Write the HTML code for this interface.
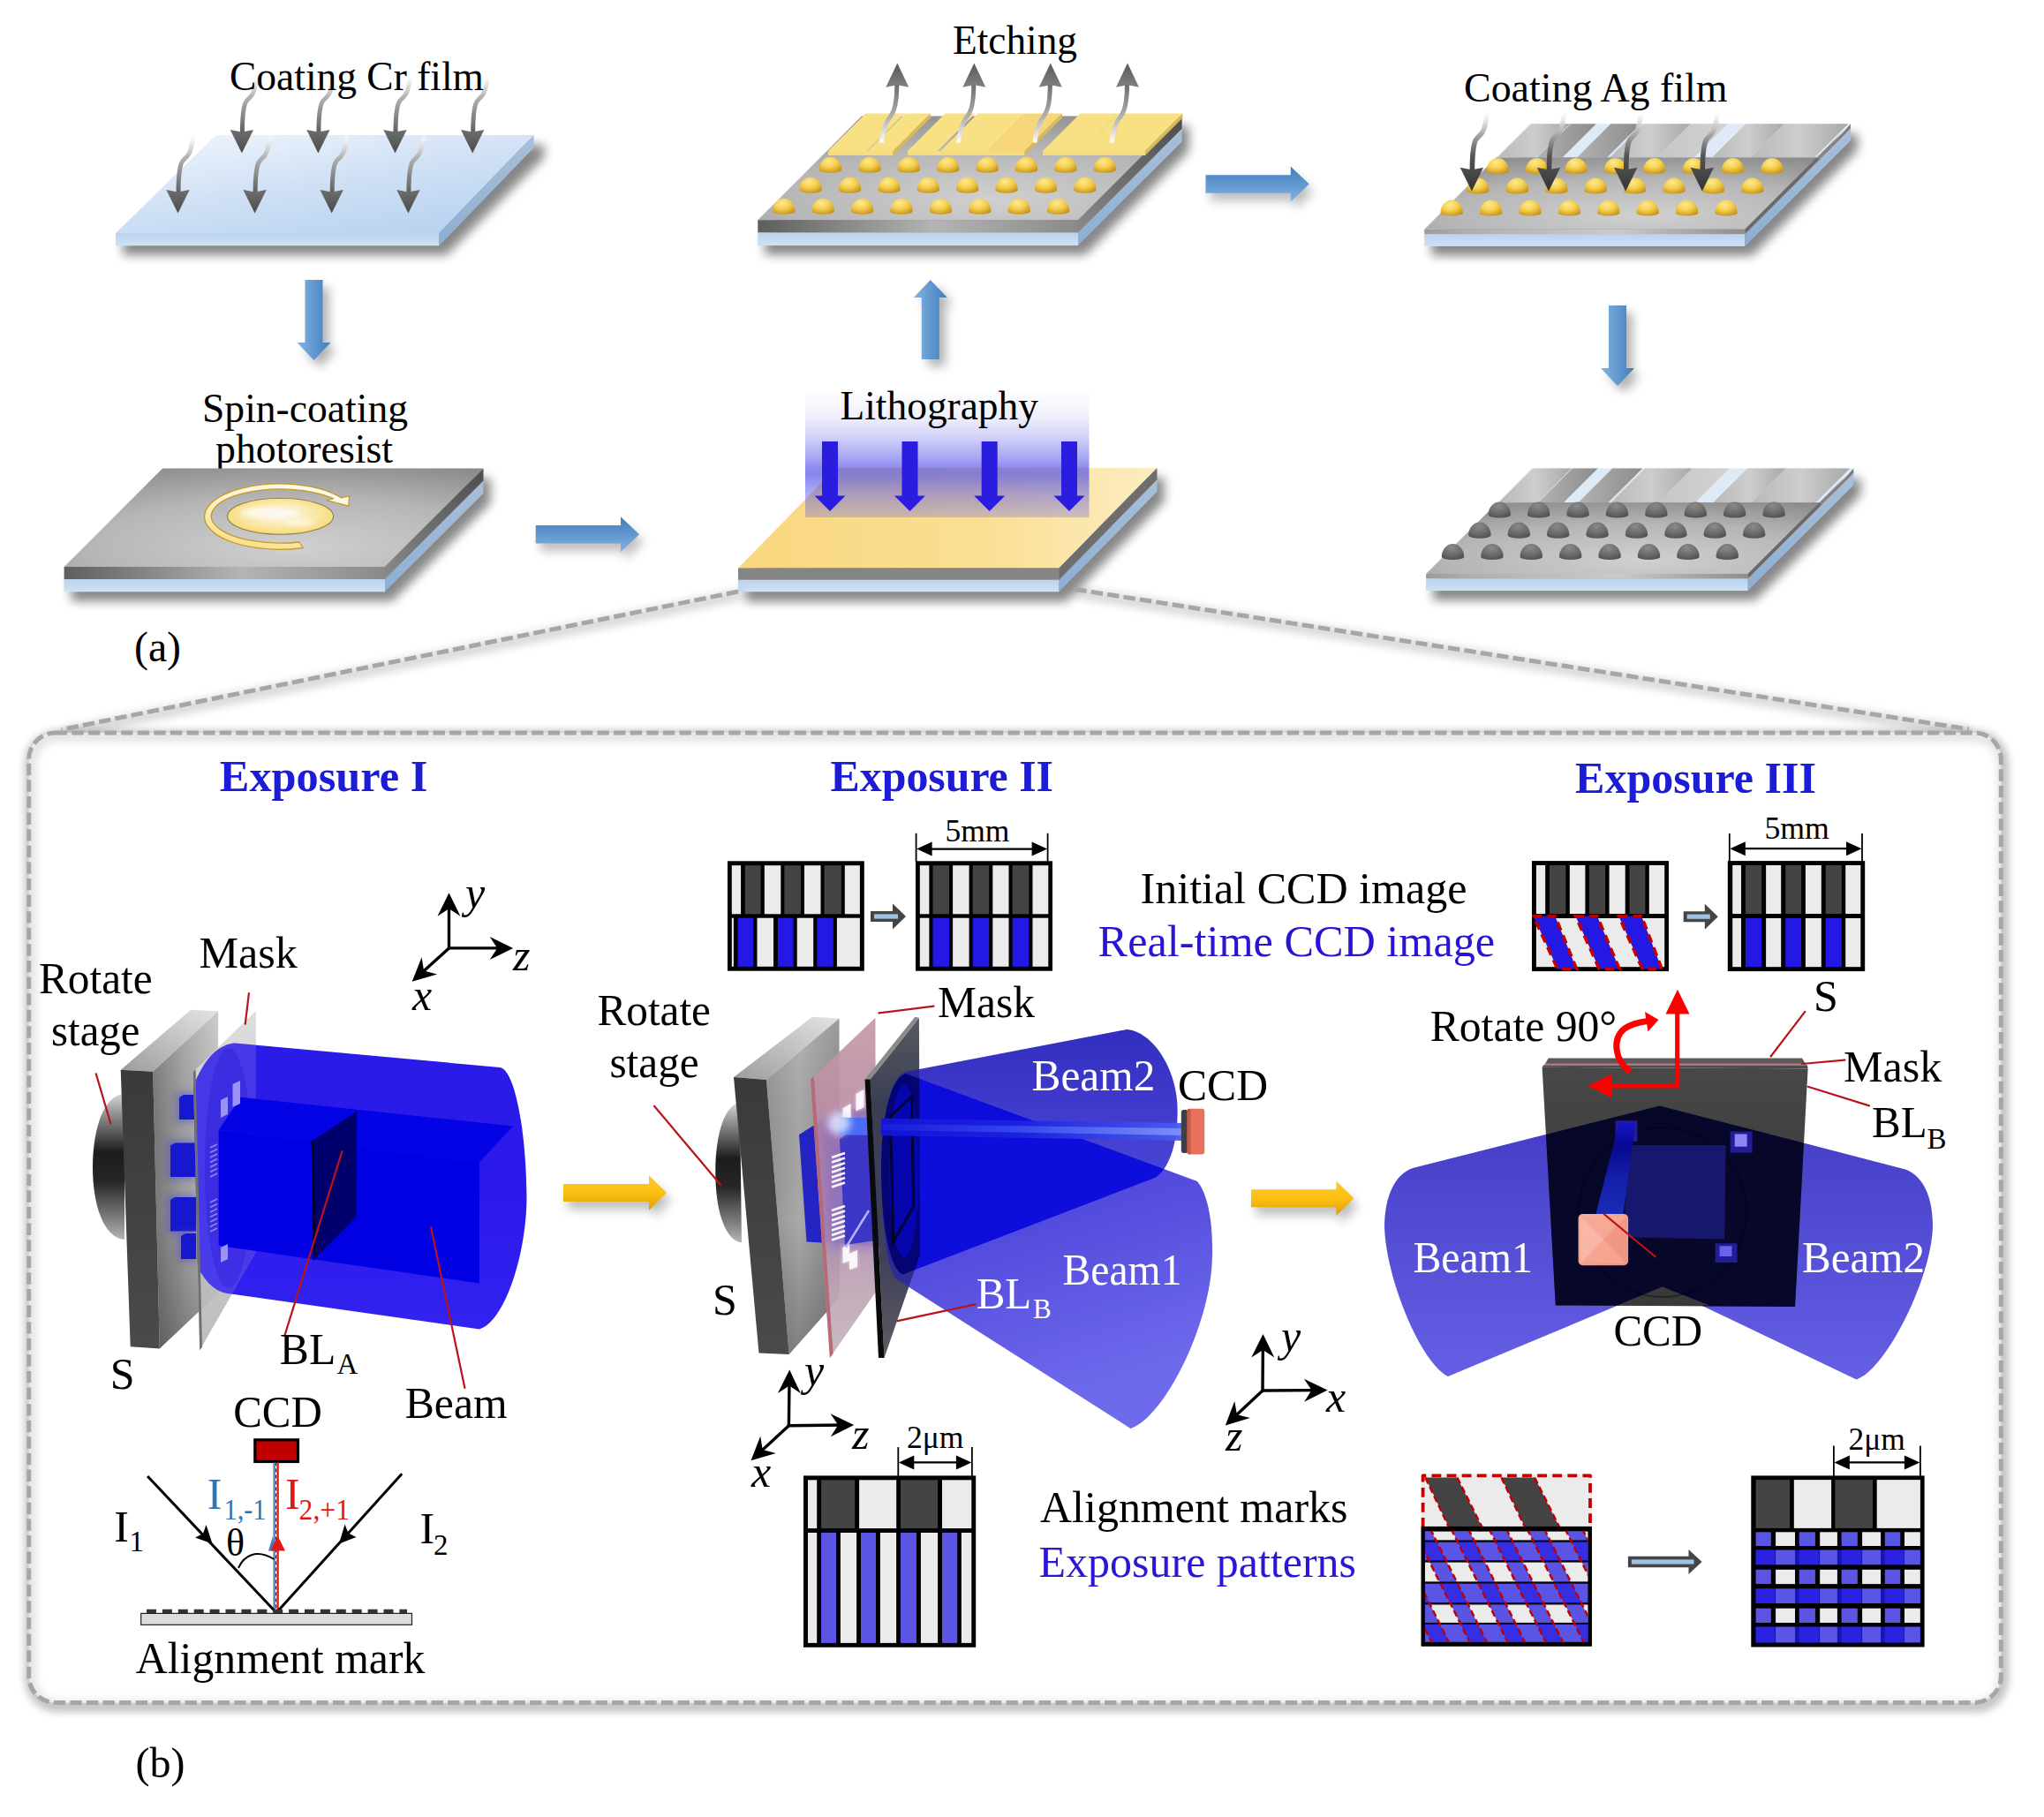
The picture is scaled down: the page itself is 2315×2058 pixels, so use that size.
<!DOCTYPE html>
<html><head><meta charset="utf-8"><title>Figure</title>
<style>
html,body{margin:0;padding:0;background:#fff;}
body{width:2315px;height:2058px;overflow:hidden;}
svg{display:block;}
svg text{font-family:"Liberation Serif",serif;}
</style></head><body>
<svg width="2315" height="2058" viewBox="0 0 2315 2058">
<defs>
<filter id="blur6" x="-30%" y="-30%" width="160%" height="160%"><feGaussianBlur stdDeviation="6"/></filter>
<filter id="blur4" x="-30%" y="-30%" width="160%" height="160%"><feGaussianBlur stdDeviation="4"/></filter>
<filter id="blur3" x="-30%" y="-30%" width="160%" height="160%"><feGaussianBlur stdDeviation="3"/></filter>
<filter id="blur2" x="-30%" y="-30%" width="160%" height="160%"><feGaussianBlur stdDeviation="2"/></filter>
<filter id="blur1" x="-30%" y="-30%" width="160%" height="160%"><feGaussianBlur stdDeviation="1"/></filter>
<filter id="blur10" x="-30%" y="-30%" width="160%" height="160%"><feGaussianBlur stdDeviation="10"/></filter>
<linearGradient id="gBlueV" x1="0" y1="0" x2="1" y2="0"><stop offset="0" stop-color="#84b3e1"/><stop offset="1" stop-color="#3f7dbd"/></linearGradient>
<linearGradient id="gBlueH" x1="0" y1="0" x2="0" y2="1"><stop offset="0" stop-color="#3f7dbd"/><stop offset="1" stop-color="#84b3e1"/></linearGradient>
<linearGradient id="gYelH" x1="0" y1="0" x2="0" y2="1"><stop offset="0" stop-color="#fbc92e"/><stop offset="0.5" stop-color="#fdc010"/><stop offset="1" stop-color="#d99f06"/></linearGradient>
<linearGradient id="gGlassTop" x1="0.15" y1="0" x2="0.85" y2="1"><stop offset="0" stop-color="#eef3fc"/><stop offset="0.5" stop-color="#cfe0f5"/><stop offset="1" stop-color="#b5d2ef"/></linearGradient>
<linearGradient id="gGlassFront" x1="0" y1="0" x2="0" y2="1"><stop offset="0" stop-color="#b9d3ee"/><stop offset="1" stop-color="#cfe1f3"/></linearGradient>
<linearGradient id="gGlassSide" x1="0" y1="0" x2="0" y2="1"><stop offset="0" stop-color="#a9bfd8"/><stop offset="1" stop-color="#8dafd3"/></linearGradient>
<radialGradient id="gGrayTop" cx="0.55" cy="0.8" r="0.9"><stop offset="0" stop-color="#d0d0d0"/><stop offset="0.55" stop-color="#b6b6b6"/><stop offset="1" stop-color="#8a8a8a"/></radialGradient>
<linearGradient id="gGrayFront" x1="0" y1="0" x2="1" y2="0"><stop offset="0" stop-color="#5e5e5e"/><stop offset="0.55" stop-color="#b4b4b4"/><stop offset="1" stop-color="#8a8a8a"/></linearGradient>
<linearGradient id="gGraySide" x1="0" y1="1" x2="1" y2="0"><stop offset="0" stop-color="#8a8a8a"/><stop offset="1" stop-color="#4d4d4d"/></linearGradient>
<linearGradient id="gYelTop" x1="0" y1="0" x2="1" y2="0"><stop offset="0" stop-color="#f9d77e"/><stop offset="0.6" stop-color="#fadf95"/><stop offset="1" stop-color="#fcecc0"/></linearGradient>
<linearGradient id="gLitho" x1="0" y1="0" x2="0" y2="1"><stop offset="0" stop-color="#5a58e8" stop-opacity="0"/><stop offset="0.22" stop-color="#5a58e8" stop-opacity="0.09"/><stop offset="0.39" stop-color="#5a58e8" stop-opacity="0.29"/><stop offset="0.53" stop-color="#5a58e8" stop-opacity="0.52"/><stop offset="0.62" stop-color="#5a58e8" stop-opacity="0.70"/><stop offset="0.67" stop-color="#5a58e8" stop-opacity="0.72"/><stop offset="0.84" stop-color="#5a58e8" stop-opacity="0.46"/><stop offset="1" stop-color="#5a58e8" stop-opacity="0.28"/></linearGradient>
<linearGradient id="gTailDown" x1="0" y1="0" x2="0" y2="1"><stop offset="0" stop-color="#ffffff" stop-opacity="0"/><stop offset="0.12" stop-color="#f4f4f4" stop-opacity="0.8"/><stop offset="0.4" stop-color="#b4b4b4"/><stop offset="1" stop-color="#5e5e5e"/></linearGradient>
<linearGradient id="gTailDownDk" x1="0" y1="0" x2="0" y2="1"><stop offset="0" stop-color="#ffffff" stop-opacity="0"/><stop offset="0.12" stop-color="#f0f0f0" stop-opacity="0.8"/><stop offset="0.4" stop-color="#a8a8a8"/><stop offset="0.75" stop-color="#555555"/><stop offset="1" stop-color="#444444"/></linearGradient>
<linearGradient id="gTailUp" x1="0" y1="0" x2="0" y2="1"><stop offset="0" stop-color="#6a6a6a"/><stop offset="0.6" stop-color="#b5b5b5"/><stop offset="1" stop-color="#ffffff"/></linearGradient>
<linearGradient id="gHeadDown" x1="0" y1="0" x2="0" y2="1"><stop offset="0" stop-color="#6e6e6e"/><stop offset="1" stop-color="#4a4a4a"/></linearGradient>
<linearGradient id="gHeadUp" x1="0" y1="0" x2="0" y2="1"><stop offset="0" stop-color="#5a5a5a"/><stop offset="1" stop-color="#808080"/></linearGradient>
<radialGradient id="gDomeY" cx="0.42" cy="0.3" r="0.75"><stop offset="0" stop-color="#fdeb92"/><stop offset="0.5" stop-color="#f5cd4a"/><stop offset="1" stop-color="#c4921a"/></radialGradient>
<radialGradient id="gDomeG" cx="0.45" cy="0.25" r="0.8"><stop offset="0" stop-color="#8a8a8a"/><stop offset="0.6" stop-color="#6a6a6a"/><stop offset="1" stop-color="#4e4e4e"/></radialGradient>
<linearGradient id="gAgA" x1="0" y1="0" x2="1" y2="0"><stop offset="0" stop-color="#b9b9b9"/><stop offset="0.5" stop-color="#cdcdcd"/><stop offset="1" stop-color="#a8a8a8"/></linearGradient>
<linearGradient id="gAgB" x1="0" y1="0" x2="1" y2="0"><stop offset="0" stop-color="#b2b2b2"/><stop offset="1" stop-color="#8c8c8c"/></linearGradient>
<linearGradient id="gAgC" x1="0" y1="0" x2="1" y2="0"><stop offset="0" stop-color="#c6c6c6"/><stop offset="1" stop-color="#d2d2d2"/></linearGradient>
<linearGradient id="gAgFront" x1="0" y1="0" x2="1" y2="0"><stop offset="0" stop-color="#9a9a9a"/><stop offset="0.15" stop-color="#b0b0b0"/><stop offset="0.6" stop-color="#cacaca"/><stop offset="1" stop-color="#8e8e8e"/></linearGradient>
<radialGradient id="gSpin" cx="0.5" cy="0.45" r="0.6"><stop offset="0" stop-color="#f6f1e6"/><stop offset="0.45" stop-color="#faecb6"/><stop offset="1" stop-color="#f8d76e"/></radialGradient>
<linearGradient id="gHeadDk" x1="0" y1="0" x2="0" y2="1"><stop offset="0" stop-color="#4e4e4e"/><stop offset="1" stop-color="#333333"/></linearGradient>
<linearGradient id="gRing" x1="0.7" y1="0" x2="0.2" y2="1"><stop offset="0" stop-color="#fffaea"/><stop offset="0.5" stop-color="#fdf0c4"/><stop offset="1" stop-color="#fbdc80"/></linearGradient>
<linearGradient id="gCyl" x1="0" y1="0" x2="0" y2="1"><stop offset="0" stop-color="#d8d8d8"/><stop offset="0.12" stop-color="#9a9a9a"/><stop offset="0.4" stop-color="#1c1c1c"/><stop offset="0.6" stop-color="#262626"/><stop offset="0.85" stop-color="#7c7c7c"/><stop offset="1" stop-color="#b5b5b5"/></linearGradient>
<linearGradient id="gSdark" x1="0" y1="0" x2="0" y2="1"><stop offset="0" stop-color="#3a3a3a"/><stop offset="1" stop-color="#4a4a4a"/></linearGradient>
<linearGradient id="gSfront" x1="0" y1="0" x2="1" y2="0"><stop offset="0" stop-color="#767676"/><stop offset="0.5" stop-color="#a2a2a2"/><stop offset="1" stop-color="#c4c4c4"/></linearGradient>
<linearGradient id="gSfrontV" x1="0" y1="0" x2="0" y2="1"><stop offset="0" stop-color="#ffffff" stop-opacity="0.15"/><stop offset="0.6" stop-color="#000000" stop-opacity="0"/><stop offset="1" stop-color="#000000" stop-opacity="0.25"/></linearGradient>
<linearGradient id="gStop" x1="0" y1="1" x2="1" y2="0"><stop offset="0" stop-color="#9c9c9c"/><stop offset="1" stop-color="#e4e4e4"/></linearGradient>
<linearGradient id="gBeam1" x1="0" y1="0" x2="0" y2="1"><stop offset="0" stop-color="#2414e6"/><stop offset="0.5" stop-color="#2412ea"/><stop offset="1" stop-color="#2c1cf0"/></linearGradient>
<linearGradient id="gMask1" x1="0" y1="0" x2="0" y2="1"><stop offset="0" stop-color="#dadada"/><stop offset="1" stop-color="#b8b8b8"/></linearGradient>
<clipPath id="clipBeam1"><polygon points="216,1100 700,1100 700,1700 230.2,1700"/></clipPath>
<clipPath id="clipMask1"><polygon points="218.8,1213.9 289.9,1144.7 289.9,1418.7 226.2,1529.3"/></clipPath>
<linearGradient id="gMask2" x1="0" y1="0" x2="0" y2="1"><stop offset="0" stop-color="#c49aa6"/><stop offset="0.35" stop-color="#b98aa6"/><stop offset="0.6" stop-color="#b08ab0"/><stop offset="0.8" stop-color="#bfa6b6"/><stop offset="1" stop-color="#c4b6bc"/></linearGradient>
<linearGradient id="gBLB2" x1="0" y1="0" x2="0" y2="1"><stop offset="0" stop-color="#565a62"/><stop offset="0.25" stop-color="#3a3e52"/><stop offset="0.7" stop-color="#40405a"/><stop offset="1" stop-color="#5c5c62"/></linearGradient>
<linearGradient id="gCone1" x1="0" y1="0" x2="0.3" y2="1"><stop offset="0" stop-color="#443ad4"/><stop offset="0.5" stop-color="#524adc"/><stop offset="1" stop-color="#6e6aec"/></linearGradient>
<linearGradient id="gCone2" x1="0" y1="0" x2="0" y2="1"><stop offset="0" stop-color="#322ec0"/><stop offset="0.5" stop-color="#4842d4"/><stop offset="1" stop-color="#4a44d6"/></linearGradient>
<linearGradient id="gThin" x1="0" y1="0" x2="1" y2="0"><stop offset="0" stop-color="#7aa0ff"/><stop offset="0.25" stop-color="#3050e8"/><stop offset="0.7" stop-color="#2a4ae0"/><stop offset="1" stop-color="#5a8af8"/></linearGradient>
<linearGradient id="gSfront2" x1="0" y1="0" x2="1" y2="0"><stop offset="0" stop-color="#929292"/><stop offset="0.45" stop-color="#a9a9a9"/><stop offset="1" stop-color="#8a8a8a"/></linearGradient>
<clipPath id="clipC1"><path d="M1025.6,1216 L1356,1338 C1368,1352 1374,1385 1373,1423 C1372,1500 1318,1606 1280.5,1618 L1014,1448 C1004,1436 998,1380 998,1323 C998,1268 1008,1222 1025.6,1216 Z"/></clipPath>
<clipPath id="clipC2"><path d="M1025.6,1214 L1275.9,1166.1 C1305,1168 1333,1210 1333.6,1256.5 C1334,1300 1322,1326 1307.8,1334 L1022.5,1443.5 C1006,1436 998,1380 998,1323 C998,1268 1008,1220 1025.6,1214 Z"/></clipPath>
<clipPath id="clipBLB2"><polygon points="985.6,1222.5 1040.9,1152.8 1042.0,1421.0 1001.5,1538.0"/></clipPath>
<linearGradient id="gThinB" x1="0" y1="0" x2="1" y2="0"><stop offset="0" stop-color="#1414d8"/><stop offset="0.45" stop-color="#1c22e0"/><stop offset="1" stop-color="#4a5cec"/></linearGradient>
<linearGradient id="gThinH" x1="0" y1="0" x2="1" y2="0"><stop offset="0" stop-color="#2a34e8" stop-opacity="0.3"/><stop offset="0.5" stop-color="#4458f0" stop-opacity="0.8"/><stop offset="1" stop-color="#7c90f8"/></linearGradient>
<clipPath id="clipBoxC"><rect x="1735" y="1036" width="155" height="64.1"/></clipPath>
<linearGradient id="gPlate3" x1="0" y1="0" x2="0" y2="1"><stop offset="0" stop-color="#484848"/><stop offset="0.35" stop-color="#404040"/><stop offset="1" stop-color="#383838"/></linearGradient>
<linearGradient id="gWing" x1="0" y1="0" x2="0" y2="1"><stop offset="0" stop-color="#423cc6"/><stop offset="0.5" stop-color="#544ed5"/><stop offset="1" stop-color="#655fe4"/></linearGradient>
<linearGradient id="gCCD3" x1="0" y1="0" x2="1" y2="1"><stop offset="0" stop-color="#f9b3a2"/><stop offset="1" stop-color="#ee9380"/></linearGradient>
<clipPath id="clipP3"><polygon points="1746.6,1208.8 2047.6,1210.4 2033.0,1480.0 1761.8,1478.4"/></clipPath>
<linearGradient id="gThin3" x1="0" y1="0" x2="0" y2="1"><stop offset="0" stop-color="#1414c8"/><stop offset="0.25" stop-color="#080890"/><stop offset="0.6" stop-color="#1420aa"/><stop offset="1" stop-color="#1a2cb8"/></linearGradient>
<clipPath id="clipF"><rect x="1613.8" y="1734.0" width="184.7" height="126.5"/></clipPath>
<clipPath id="clipF2"><rect x="1609.7" y="1669.5" width="193.2" height="195.1"/></clipPath>
</defs>
<rect x="0" y="0" width="2315" height="2058" fill="#ffffff"/>
<polygon points="139.0,275.0 250.0,164.0 616.5,164.0 616.5,178.0 505.5,289.0 139.0,289.0" fill="#000" opacity="0.47" filter="url(#blur6)"/>
<polygon points="131.0,264.0 497.5,264.0 604.5,153.0 244.5,153.0" fill="url(#gGlassTop)" />
<rect x="131" y="264" width="366.5" height="14.3" fill="url(#gGlassFront)"/>
<polygon points="497.5,264.0 604.5,153.0 604.5,167.3 497.5,278.3" fill="url(#gGlassSide)" />
<path d="M274.4,151.0 C274.4,133.5 275.4,123.5 277.7,117.0 C279.4,112.5 282.9,111.5 285.4,107.5 C288.4,103.5 290.4,94.5 291.9,81.5" fill="none" stroke="url(#gTailDown)" stroke-width="5.0"/>
<polygon points="273.9,173.5 260.7,147.0 273.9,149.5 287.1,147.0" fill="url(#gHeadDown)" />
<path d="M360.9,151.0 C360.9,133.5 361.9,123.5 364.2,117.0 C365.9,112.5 369.4,111.5 371.9,107.5 C374.9,103.5 376.9,94.5 378.4,81.5" fill="none" stroke="url(#gTailDown)" stroke-width="5.0"/>
<polygon points="360.4,173.5 347.2,147.0 360.4,149.5 373.6,147.0" fill="url(#gHeadDown)" />
<path d="M448.0,151.0 C448.0,133.5 449.0,123.5 451.3,117.0 C453.0,112.5 456.5,111.5 459.0,107.5 C462.0,103.5 464.0,94.5 465.5,81.5" fill="none" stroke="url(#gTailDown)" stroke-width="5.0"/>
<polygon points="447.5,173.5 434.3,147.0 447.5,149.5 460.7,147.0" fill="url(#gHeadDown)" />
<path d="M535.7,151.0 C535.7,133.5 536.7,123.5 539.0,117.0 C540.7,112.5 544.2,111.5 546.7,107.5 C549.7,103.5 551.7,94.5 553.2,81.5" fill="none" stroke="url(#gTailDown)" stroke-width="5.0"/>
<polygon points="535.2,173.5 522.0,147.0 535.2,149.5 548.4,147.0" fill="url(#gHeadDown)" />
<path d="M202.0,219.1 C202.0,201.6 203.0,191.6 205.3,185.1 C207.0,180.6 210.5,179.6 213.0,175.6 C216.0,171.6 218.0,162.6 219.5,149.6" fill="none" stroke="url(#gTailDown)" stroke-width="5.0"/>
<polygon points="201.5,241.6 188.3,215.1 201.5,217.6 214.7,215.1" fill="url(#gHeadDown)" />
<path d="M289.1,219.1 C289.1,201.6 290.1,191.6 292.4,185.1 C294.1,180.6 297.6,179.6 300.1,175.6 C303.1,171.6 305.1,162.6 306.6,149.6" fill="none" stroke="url(#gTailDown)" stroke-width="5.0"/>
<polygon points="288.6,241.6 275.4,215.1 288.6,217.6 301.8,215.1" fill="url(#gHeadDown)" />
<path d="M376.2,219.1 C376.2,201.6 377.2,191.6 379.5,185.1 C381.2,180.6 384.7,179.6 387.2,175.6 C390.2,171.6 392.2,162.6 393.7,149.6" fill="none" stroke="url(#gTailDown)" stroke-width="5.0"/>
<polygon points="375.7,241.6 362.5,215.1 375.7,217.6 388.9,215.1" fill="url(#gHeadDown)" />
<path d="M462.9,219.1 C462.9,201.6 463.9,191.6 466.2,185.1 C467.9,180.6 471.4,179.6 473.9,175.6 C476.9,171.6 478.9,162.6 480.4,149.6" fill="none" stroke="url(#gTailDown)" stroke-width="5.0"/>
<polygon points="462.4,241.6 449.2,215.1 462.4,217.6 475.6,215.1" fill="url(#gHeadDown)" />
<text x="260.0" y="102.0" font-size="45.5" fill="#000" text-anchor="start" textLength="288.0" lengthAdjust="spacingAndGlyphs" >Coating Cr film</text>
<polygon points="352.5,325.0 372.5,325.0 372.5,396.0 381.5,396.0 362.5,416.0 343.5,396.0 352.5,396.0" fill="#000" opacity="0.3" filter="url(#blur6)"/>
<polygon points="345.5,317.0 365.5,317.0 365.5,388.0 374.5,388.0 355.5,408.0 336.5,388.0 345.5,388.0" fill="url(#gBlueV)" />
<text x="229.0" y="478.0" font-size="45.5" fill="#000" text-anchor="start" textLength="233.0" lengthAdjust="spacingAndGlyphs" >Spin-coating</text>
<text x="244.0" y="524.0" font-size="45.5" fill="#000" text-anchor="start" textLength="201.0" lengthAdjust="spacingAndGlyphs" >photoresist</text>
<polygon points="80.6,653.0 192.1,541.5 555.5,541.5 555.5,569.5 444.0,681.0 80.6,681.0" fill="#000" opacity="0.47" filter="url(#blur6)"/>
<polygon points="72.6,642.0 436.0,642.0 547.5,530.5 184.1,530.5" fill="url(#gGrayTop)" />
<rect x="72.6" y="642.0" width="363.4" height="14.3" fill="url(#gGrayFront)"/>
<polygon points="436.0,642.0 547.5,530.5 547.5,544.8 436.0,656.3" fill="url(#gGraySide)" />
<rect x="72.6" y="656.0" width="363.4" height="14.3" fill="url(#gGlassFront)"/>
<polygon points="436.0,656.0 547.5,544.5 547.5,558.8 436.0,670.3" fill="url(#gGlassSide)" />
<path d="M343.3,620.5 A85,37.2 0 1 1 386.3,563.8 L395.6,561.8 L394.7,573.1 L369.7,566.7 L377.5,564.7 A78.4,30.6 0 1 0 338.9,614 Z" fill="url(#gRing)" stroke="#c29a2c" stroke-width="1.3" stroke-linejoin="round"/>
<ellipse cx="317.6" cy="584.8" rx="60" ry="20.5" fill="url(#gSpin)" stroke="#8e7c46" stroke-width="1.1"/>
<ellipse cx="306" cy="581" rx="34" ry="6.5" fill="#ffffff" opacity="0.6" filter="url(#blur2)"/>
<ellipse cx="340" cy="592" rx="18" ry="4" fill="#ffffff" opacity="0.45" filter="url(#blur2)"/>
<text x="152.0" y="748.5" font-size="48.0" fill="#000" text-anchor="start" textLength="53.0" lengthAdjust="spacingAndGlyphs" >(a)</text>
<polygon points="611.7,604.0 708.0,604.0 708.0,594.3 729.0,614.3 708.0,634.3 708.0,624.5 611.7,624.5" fill="#000" opacity="0.25" filter="url(#blur6)"/>
<polygon points="606.7,595.0 703.0,595.0 703.0,585.3 724.0,605.3 703.0,625.3 703.0,615.5 606.7,615.5" fill="url(#gBlueH)" />
<polygon points="844.0,654.4 955.0,540.9 1318.5,540.9 1318.5,567.9 1207.5,681.4 844.0,681.4" fill="#000" opacity="0.47" filter="url(#blur6)"/>
<polygon points="836.0,643.4 1199.5,643.4 1310.5,529.9 947.0,529.9" fill="url(#gYelTop)" />
<rect x="836.0" y="643.4" width="363.5" height="13.6" fill="#858585"/>
<polygon points="1199.5,643.4 1310.5,529.9 1310.5,543.5 1199.5,657.0" fill="#6e6e6e" />
<rect x="836.0" y="656.7" width="363.5" height="13.6" fill="url(#gGlassFront)"/>
<polygon points="1199.5,656.7 1310.5,543.2 1310.5,556.8 1199.5,670.3" fill="url(#gGlassSide)" />
<rect x="912" y="440" width="321.5" height="146" fill="url(#gLitho)"/>
<polygon points="931.0,500.0 949.0,500.0 949.0,561.5 957.5,561.5 940.0,579.0 922.5,561.5 931.0,561.5" fill="#2b1de0" />
<polygon points="1021.5,500.0 1039.5,500.0 1039.5,561.5 1048.0,561.5 1030.5,579.0 1013.0,561.5 1021.5,561.5" fill="#2b1de0" />
<polygon points="1111.7,500.0 1129.7,500.0 1129.7,561.5 1138.2,561.5 1120.7,579.0 1103.2,561.5 1111.7,561.5" fill="#2b1de0" />
<polygon points="1202.0,500.0 1220.0,500.0 1220.0,561.5 1228.5,561.5 1211.0,579.0 1193.5,561.5 1202.0,561.5" fill="#2b1de0" />
<text x="951.5" y="474.5" font-size="45.5" fill="#000" text-anchor="start" textLength="224.5" lengthAdjust="spacingAndGlyphs" >Lithography</text>
<polygon points="1050.8,415.0 1070.8,415.0 1070.8,345.0 1079.8,345.0 1060.8,325.0 1041.8,345.0 1050.8,345.0" fill="#000" opacity="0.3" filter="url(#blur6)"/>
<polygon points="1043.8,407.0 1063.8,407.0 1063.8,337.0 1072.8,337.0 1053.8,317.0 1034.8,337.0 1043.8,337.0" fill="url(#gBlueV)" />
<polygon points="866.3,260.2 983.9,142.6 1346.6,142.6 1346.6,171.1 1229.0,288.7 866.3,288.7" fill="#000" opacity="0.47" filter="url(#blur6)"/>
<polygon points="858.3,249.2 1221.0,249.2 1338.6,131.6 975.9,131.6" fill="url(#gGrayTop)" />
<rect x="858.3" y="249.2" width="362.7" height="14.5" fill="url(#gGrayFront)"/>
<polygon points="1221.0,249.2 1338.6,131.6 1338.6,146.1 1221.0,263.7" fill="url(#gGraySide)" />
<rect x="858.3" y="263.4" width="362.7" height="14.7" fill="url(#gGlassFront)"/>
<polygon points="1221.0,263.4 1338.6,145.8 1338.6,160.5 1221.0,278.1" fill="url(#gGlassSide)" />
<polygon points="938.0,171.0 982.0,171.0 1024.5,128.5 980.5,128.5" fill="#f8e084" />
<polygon points="982.8,171.0 1011.5,171.0 1054.0,128.5 1025.3,128.5" fill="#f8e084" />
<polygon points="1028.0,171.0 1062.0,171.0 1104.5,128.5 1070.5,128.5" fill="#f8e084" />
<polygon points="1065.0,171.0 1118.5,171.0 1161.0,128.5 1107.5,128.5" fill="#f8e084" />
<polygon points="1118.5,171.0 1160.5,171.0 1203.0,128.5 1161.0,128.5" fill="#f7d679" />
<polygon points="1181.0,171.0 1224.5,171.0 1267.0,128.5 1223.5,128.5" fill="#f8e084" />
<polygon points="1224.5,171.0 1297.0,171.0 1339.5,128.5 1267.0,128.5" fill="#f8e084" />
<rect x="938.0" y="171.0" width="73.5" height="5.0" fill="#f5dc7e"/>
<polygon points="1011.5,171.0 1054.0,128.5 1054.0,133.5 1011.5,176.0" fill="#d9b95a" />
<rect x="1028.0" y="171.0" width="132.5" height="5.0" fill="#f5dc7e"/>
<polygon points="1160.5,171.0 1203.0,128.5 1203.0,133.5 1160.5,176.0" fill="#d9b95a" />
<rect x="1181.0" y="171.0" width="116.0" height="5.0" fill="#f5dc7e"/>
<polygon points="1297.0,171.0 1339.5,128.5 1339.5,133.5 1297.0,176.0" fill="#d9b95a" />
<path d="M927.8,192.2 A12.7,14.5 0 0 1 953.2,192.2 A12.7,3.6 0 0 1 927.8,192.2 Z" fill="url(#gDomeY)"/>
<path d="M972.2,192.2 A12.7,14.5 0 0 1 997.6,192.2 A12.7,3.6 0 0 1 972.2,192.2 Z" fill="url(#gDomeY)"/>
<path d="M1016.6,192.2 A12.7,14.5 0 0 1 1042.0,192.2 A12.7,3.6 0 0 1 1016.6,192.2 Z" fill="url(#gDomeY)"/>
<path d="M1061.0,192.2 A12.7,14.5 0 0 1 1086.4,192.2 A12.7,3.6 0 0 1 1061.0,192.2 Z" fill="url(#gDomeY)"/>
<path d="M1105.4,192.2 A12.7,14.5 0 0 1 1130.8,192.2 A12.7,3.6 0 0 1 1105.4,192.2 Z" fill="url(#gDomeY)"/>
<path d="M1149.8,192.2 A12.7,14.5 0 0 1 1175.2,192.2 A12.7,3.6 0 0 1 1149.8,192.2 Z" fill="url(#gDomeY)"/>
<path d="M1194.2,192.2 A12.7,14.5 0 0 1 1219.6,192.2 A12.7,3.6 0 0 1 1194.2,192.2 Z" fill="url(#gDomeY)"/>
<path d="M1238.6,192.2 A12.7,14.5 0 0 1 1264.0,192.2 A12.7,3.6 0 0 1 1238.6,192.2 Z" fill="url(#gDomeY)"/>
<path d="M905.4,215.1 A12.7,14.5 0 0 1 930.8,215.1 A12.7,3.6 0 0 1 905.4,215.1 Z" fill="url(#gDomeY)"/>
<path d="M949.8,215.1 A12.7,14.5 0 0 1 975.2,215.1 A12.7,3.6 0 0 1 949.8,215.1 Z" fill="url(#gDomeY)"/>
<path d="M994.2,215.1 A12.7,14.5 0 0 1 1019.6,215.1 A12.7,3.6 0 0 1 994.2,215.1 Z" fill="url(#gDomeY)"/>
<path d="M1038.6,215.1 A12.7,14.5 0 0 1 1064.0,215.1 A12.7,3.6 0 0 1 1038.6,215.1 Z" fill="url(#gDomeY)"/>
<path d="M1083.0,215.1 A12.7,14.5 0 0 1 1108.4,215.1 A12.7,3.6 0 0 1 1083.0,215.1 Z" fill="url(#gDomeY)"/>
<path d="M1127.4,215.1 A12.7,14.5 0 0 1 1152.8,215.1 A12.7,3.6 0 0 1 1127.4,215.1 Z" fill="url(#gDomeY)"/>
<path d="M1171.8,215.1 A12.7,14.5 0 0 1 1197.2,215.1 A12.7,3.6 0 0 1 1171.8,215.1 Z" fill="url(#gDomeY)"/>
<path d="M1216.2,215.1 A12.7,14.5 0 0 1 1241.6,215.1 A12.7,3.6 0 0 1 1216.2,215.1 Z" fill="url(#gDomeY)"/>
<path d="M875.1,239.2 A12.7,14.5 0 0 1 900.5,239.2 A12.7,3.6 0 0 1 875.1,239.2 Z" fill="url(#gDomeY)"/>
<path d="M919.5,239.2 A12.7,14.5 0 0 1 944.9,239.2 A12.7,3.6 0 0 1 919.5,239.2 Z" fill="url(#gDomeY)"/>
<path d="M963.9,239.2 A12.7,14.5 0 0 1 989.3,239.2 A12.7,3.6 0 0 1 963.9,239.2 Z" fill="url(#gDomeY)"/>
<path d="M1008.3,239.2 A12.7,14.5 0 0 1 1033.7,239.2 A12.7,3.6 0 0 1 1008.3,239.2 Z" fill="url(#gDomeY)"/>
<path d="M1052.7,239.2 A12.7,14.5 0 0 1 1078.1,239.2 A12.7,3.6 0 0 1 1052.7,239.2 Z" fill="url(#gDomeY)"/>
<path d="M1097.1,239.2 A12.7,14.5 0 0 1 1122.5,239.2 A12.7,3.6 0 0 1 1097.1,239.2 Z" fill="url(#gDomeY)"/>
<path d="M1141.5,239.2 A12.7,14.5 0 0 1 1166.9,239.2 A12.7,3.6 0 0 1 1141.5,239.2 Z" fill="url(#gDomeY)"/>
<path d="M1185.9,239.2 A12.7,14.5 0 0 1 1211.3,239.2 A12.7,3.6 0 0 1 1185.9,239.2 Z" fill="url(#gDomeY)"/>
<path d="M1015.8,94.7 C1015.8,111.5 1014.3,121.5 1011.0,127.5 C1009.3,131.5 1007.3,133.0 1005.3,136.5 C1002.3,141.5 999.8,151.5 998.3,161.5" fill="none" stroke="url(#gTailUp)" stroke-width="5"/>
<polygon points="1016.3,71.5 1003.3,98.7 1016.3,96.2 1029.3,98.7" fill="url(#gHeadUp)" />
<path d="M1102.8,94.7 C1102.8,111.5 1101.3,121.5 1098.0,127.5 C1096.3,131.5 1094.3,133.0 1092.3,136.5 C1089.3,141.5 1086.8,151.5 1085.3,161.5" fill="none" stroke="url(#gTailUp)" stroke-width="5"/>
<polygon points="1103.3,71.5 1090.3,98.7 1103.3,96.2 1116.3,98.7" fill="url(#gHeadUp)" />
<path d="M1189.3,94.7 C1189.3,111.5 1187.8,121.5 1184.5,127.5 C1182.8,131.5 1180.8,133.0 1178.8,136.5 C1175.8,141.5 1173.3,151.5 1171.8,161.5" fill="none" stroke="url(#gTailUp)" stroke-width="5"/>
<polygon points="1189.8,71.5 1176.8,98.7 1189.8,96.2 1202.8,98.7" fill="url(#gHeadUp)" />
<path d="M1276.5,94.7 C1276.5,111.5 1275.0,121.5 1271.7,127.5 C1270.0,131.5 1268.0,133.0 1266.0,136.5 C1263.0,141.5 1260.5,151.5 1259.0,161.5" fill="none" stroke="url(#gTailUp)" stroke-width="5"/>
<polygon points="1277.0,71.5 1264.0,98.7 1277.0,96.2 1290.0,98.7" fill="url(#gHeadUp)" />
<text x="1079.0" y="60.8" font-size="45.5" fill="#000" text-anchor="start" textLength="141.0" lengthAdjust="spacingAndGlyphs" >Etching</text>
<polygon points="1370.5,207.2 1466.8,207.2 1466.8,197.5 1487.8,217.5 1466.8,237.5 1466.8,227.8 1370.5,227.8" fill="#000" opacity="0.25" filter="url(#blur6)"/>
<polygon points="1365.5,198.2 1461.8,198.2 1461.8,188.5 1482.8,208.5 1461.8,228.5 1461.8,218.8 1365.5,218.8" fill="url(#gBlueH)" />
<polygon points="1621.2,270.8 1740.8,151.2 2103.9,151.2 2103.9,170.2 1984.3,289.8 1621.2,289.8" fill="#000" opacity="0.47" filter="url(#blur6)"/>
<polygon points="1694.5,178.5 2057.6,178.5 2095.9,140.2 1732.8,140.2" fill="#dfeaf7" />
<polygon points="1696.0,178.5 1740.0,178.5 1778.3,140.2 1734.3,140.2" fill="url(#gAgA)" />
<polygon points="1740.8,178.5 1769.5,178.5 1807.8,140.2 1779.1,140.2" fill="url(#gAgB)" />
<polygon points="1786.0,178.5 1820.0,178.5 1858.3,140.2 1824.3,140.2" fill="url(#gAgB)" />
<polygon points="1823.0,178.5 1876.5,178.5 1914.8,140.2 1861.3,140.2" fill="url(#gAgA)" />
<polygon points="1876.5,178.5 1918.5,178.5 1956.8,140.2 1914.8,140.2" fill="url(#gAgC)" />
<polygon points="1939.0,178.5 1982.5,178.5 2020.8,140.2 1977.3,140.2" fill="url(#gAgA)" />
<polygon points="1982.5,178.5 2055.0,178.5 2093.3,140.2 2020.8,140.2" fill="url(#gAgA)" />
<polygon points="2060.6,181.5 2095.9,140.2 2095.9,145.5 2060.6,186.8" fill="#7a7a7a" />
<polygon points="1613.2,259.8 1976.3,259.8 2057.6,178.5 1694.5,178.5" fill="url(#gGrayTop)" />
<polygon points="1976.3,259.8 2057.6,178.5 2060.6,181.5 1977.3,264.8" fill="#6a6a6a" />
<rect x="1613.2" y="259.8" width="363.1" height="5.6" fill="url(#gAgFront)"/>
<rect x="1613.2" y="265.1" width="363.1" height="13.8" fill="url(#gGlassFront)"/>
<polygon points="1976.3,265.1 2095.9,145.5 2095.9,159.3 1976.3,278.9" fill="url(#gGlassSide)" />
<path d="M1683.5,193.4 A12.7,14.5 0 0 1 1708.9,193.4 A12.7,3.6 0 0 1 1683.5,193.4 Z" fill="url(#gDomeY)"/>
<path d="M1727.9,193.4 A12.7,14.5 0 0 1 1753.3,193.4 A12.7,3.6 0 0 1 1727.9,193.4 Z" fill="url(#gDomeY)"/>
<path d="M1772.3,193.4 A12.7,14.5 0 0 1 1797.7,193.4 A12.7,3.6 0 0 1 1772.3,193.4 Z" fill="url(#gDomeY)"/>
<path d="M1816.7,193.4 A12.7,14.5 0 0 1 1842.1,193.4 A12.7,3.6 0 0 1 1816.7,193.4 Z" fill="url(#gDomeY)"/>
<path d="M1861.1,193.4 A12.7,14.5 0 0 1 1886.5,193.4 A12.7,3.6 0 0 1 1861.1,193.4 Z" fill="url(#gDomeY)"/>
<path d="M1905.5,193.4 A12.7,14.5 0 0 1 1930.9,193.4 A12.7,3.6 0 0 1 1905.5,193.4 Z" fill="url(#gDomeY)"/>
<path d="M1949.9,193.4 A12.7,14.5 0 0 1 1975.3,193.4 A12.7,3.6 0 0 1 1949.9,193.4 Z" fill="url(#gDomeY)"/>
<path d="M1994.3,193.4 A12.7,14.5 0 0 1 2019.7,193.4 A12.7,3.6 0 0 1 1994.3,193.4 Z" fill="url(#gDomeY)"/>
<path d="M1661.3,215.9 A12.7,14.5 0 0 1 1686.7,215.9 A12.7,3.6 0 0 1 1661.3,215.9 Z" fill="url(#gDomeY)"/>
<path d="M1705.7,215.9 A12.7,14.5 0 0 1 1731.1,215.9 A12.7,3.6 0 0 1 1705.7,215.9 Z" fill="url(#gDomeY)"/>
<path d="M1750.1,215.9 A12.7,14.5 0 0 1 1775.5,215.9 A12.7,3.6 0 0 1 1750.1,215.9 Z" fill="url(#gDomeY)"/>
<path d="M1794.5,215.9 A12.7,14.5 0 0 1 1819.9,215.9 A12.7,3.6 0 0 1 1794.5,215.9 Z" fill="url(#gDomeY)"/>
<path d="M1838.9,215.9 A12.7,14.5 0 0 1 1864.3,215.9 A12.7,3.6 0 0 1 1838.9,215.9 Z" fill="url(#gDomeY)"/>
<path d="M1883.3,215.9 A12.7,14.5 0 0 1 1908.7,215.9 A12.7,3.6 0 0 1 1883.3,215.9 Z" fill="url(#gDomeY)"/>
<path d="M1927.7,215.9 A12.7,14.5 0 0 1 1953.1,215.9 A12.7,3.6 0 0 1 1927.7,215.9 Z" fill="url(#gDomeY)"/>
<path d="M1972.1,215.9 A12.7,14.5 0 0 1 1997.5,215.9 A12.7,3.6 0 0 1 1972.1,215.9 Z" fill="url(#gDomeY)"/>
<path d="M1631.5,241.0 A12.7,14.5 0 0 1 1656.9,241.0 A12.7,3.6 0 0 1 1631.5,241.0 Z" fill="url(#gDomeY)"/>
<path d="M1675.9,241.0 A12.7,14.5 0 0 1 1701.3,241.0 A12.7,3.6 0 0 1 1675.9,241.0 Z" fill="url(#gDomeY)"/>
<path d="M1720.3,241.0 A12.7,14.5 0 0 1 1745.7,241.0 A12.7,3.6 0 0 1 1720.3,241.0 Z" fill="url(#gDomeY)"/>
<path d="M1764.7,241.0 A12.7,14.5 0 0 1 1790.1,241.0 A12.7,3.6 0 0 1 1764.7,241.0 Z" fill="url(#gDomeY)"/>
<path d="M1809.1,241.0 A12.7,14.5 0 0 1 1834.5,241.0 A12.7,3.6 0 0 1 1809.1,241.0 Z" fill="url(#gDomeY)"/>
<path d="M1853.5,241.0 A12.7,14.5 0 0 1 1878.9,241.0 A12.7,3.6 0 0 1 1853.5,241.0 Z" fill="url(#gDomeY)"/>
<path d="M1897.9,241.0 A12.7,14.5 0 0 1 1923.3,241.0 A12.7,3.6 0 0 1 1897.9,241.0 Z" fill="url(#gDomeY)"/>
<path d="M1942.3,241.0 A12.7,14.5 0 0 1 1967.7,241.0 A12.7,3.6 0 0 1 1942.3,241.0 Z" fill="url(#gDomeY)"/>
<path d="M1667.4,193.8 C1667.4,176.5 1668.4,166.5 1670.7,160.0 C1672.4,155.5 1675.9,154.5 1678.4,150.5 C1681.4,146.5 1683.4,137.5 1684.9,124.5" fill="none" stroke="url(#gTailDownDk)" stroke-width="5.6"/>
<polygon points="1666.9,216.5 1653.7,189.8 1666.9,192.3 1680.1,189.8" fill="url(#gHeadDk)" />
<path d="M1754.5,193.8 C1754.5,176.5 1755.5,166.5 1757.8,160.0 C1759.5,155.5 1763.0,154.5 1765.5,150.5 C1768.5,146.5 1770.5,137.5 1772.0,124.5" fill="none" stroke="url(#gTailDownDk)" stroke-width="5.6"/>
<polygon points="1754.0,216.5 1740.8,189.8 1754.0,192.3 1767.2,189.8" fill="url(#gHeadDk)" />
<path d="M1841.7,193.8 C1841.7,176.5 1842.7,166.5 1845.0,160.0 C1846.7,155.5 1850.2,154.5 1852.7,150.5 C1855.7,146.5 1857.7,137.5 1859.2,124.5" fill="none" stroke="url(#gTailDownDk)" stroke-width="5.6"/>
<polygon points="1841.2,216.5 1828.0,189.8 1841.2,192.3 1854.4,189.8" fill="url(#gHeadDk)" />
<path d="M1928.3,193.8 C1928.3,176.5 1929.3,166.5 1931.6,160.0 C1933.3,155.5 1936.8,154.5 1939.3,150.5 C1942.3,146.5 1944.3,137.5 1945.8,124.5" fill="none" stroke="url(#gTailDownDk)" stroke-width="5.6"/>
<polygon points="1927.8,216.5 1914.6,189.8 1927.8,192.3 1941.0,189.8" fill="url(#gHeadDk)" />
<text x="1658.0" y="115.4" font-size="45.5" fill="#000" text-anchor="start" textLength="298.6" lengthAdjust="spacingAndGlyphs" >Coating Ag film</text>
<polygon points="1829.0,354.0 1849.0,354.0 1849.0,425.0 1858.0,425.0 1839.0,445.0 1820.0,425.0 1829.0,425.0" fill="#000" opacity="0.3" filter="url(#blur6)"/>
<polygon points="1822.0,346.0 1842.0,346.0 1842.0,417.0 1851.0,417.0 1832.0,437.0 1813.0,417.0 1822.0,417.0" fill="url(#gBlueV)" />
<polygon points="1623.1,661.0 1742.7,541.4 2107.3,541.4 2107.3,560.4 1987.7,680.0 1623.1,680.0" fill="#000" opacity="0.47" filter="url(#blur6)"/>
<polygon points="1695.9,569.2 2060.5,569.2 2099.3,530.4 1734.7,530.4" fill="#dfeaf7" />
<polygon points="1697.4,569.2 1741.4,569.2 1780.2,530.4 1736.2,530.4" fill="url(#gAgA)" />
<polygon points="1742.2,569.2 1770.9,569.2 1809.7,530.4 1781.0,530.4" fill="url(#gAgB)" />
<polygon points="1787.4,569.2 1821.4,569.2 1860.2,530.4 1826.2,530.4" fill="url(#gAgB)" />
<polygon points="1824.4,569.2 1877.9,569.2 1916.7,530.4 1863.2,530.4" fill="url(#gAgA)" />
<polygon points="1877.9,569.2 1919.9,569.2 1958.7,530.4 1916.7,530.4" fill="url(#gAgC)" />
<polygon points="1940.4,569.2 1983.9,569.2 2022.7,530.4 1979.2,530.4" fill="url(#gAgA)" />
<polygon points="1983.9,569.2 2056.4,569.2 2095.2,530.4 2022.7,530.4" fill="url(#gAgA)" />
<polygon points="2063.5,572.2 2099.3,530.4 2099.3,535.7 2063.5,577.5" fill="#7a7a7a" />
<polygon points="1615.1,650.0 1979.7,650.0 2060.5,569.2 1695.9,569.2" fill="url(#gGrayTop)" />
<polygon points="1979.7,650.0 2060.5,569.2 2063.5,572.2 1980.7,655.0" fill="#6a6a6a" />
<rect x="1615.1" y="650.0" width="364.6" height="5.6" fill="url(#gAgFront)"/>
<rect x="1615.1" y="655.3" width="364.6" height="13.8" fill="url(#gGlassFront)"/>
<polygon points="1979.7,655.3 2099.3,535.7 2099.3,549.5 1979.7,669.1" fill="url(#gGlassSide)" />
<path d="M1685.6,582.9 A12.7,14.5 0 0 1 1711.0,582.9 A12.7,3.6 0 0 1 1685.6,582.9 Z" fill="url(#gDomeG)"/>
<path d="M1730.0,582.9 A12.7,14.5 0 0 1 1755.4,582.9 A12.7,3.6 0 0 1 1730.0,582.9 Z" fill="url(#gDomeG)"/>
<path d="M1774.4,582.9 A12.7,14.5 0 0 1 1799.8,582.9 A12.7,3.6 0 0 1 1774.4,582.9 Z" fill="url(#gDomeG)"/>
<path d="M1818.8,582.9 A12.7,14.5 0 0 1 1844.2,582.9 A12.7,3.6 0 0 1 1818.8,582.9 Z" fill="url(#gDomeG)"/>
<path d="M1863.2,582.9 A12.7,14.5 0 0 1 1888.6,582.9 A12.7,3.6 0 0 1 1863.2,582.9 Z" fill="url(#gDomeG)"/>
<path d="M1907.6,582.9 A12.7,14.5 0 0 1 1933.0,582.9 A12.7,3.6 0 0 1 1907.6,582.9 Z" fill="url(#gDomeG)"/>
<path d="M1952.0,582.9 A12.7,14.5 0 0 1 1977.4,582.9 A12.7,3.6 0 0 1 1952.0,582.9 Z" fill="url(#gDomeG)"/>
<path d="M1996.4,582.9 A12.7,14.5 0 0 1 2021.8,582.9 A12.7,3.6 0 0 1 1996.4,582.9 Z" fill="url(#gDomeG)"/>
<path d="M1663.2,606.1 A12.7,14.5 0 0 1 1688.6,606.1 A12.7,3.6 0 0 1 1663.2,606.1 Z" fill="url(#gDomeG)"/>
<path d="M1707.6,606.1 A12.7,14.5 0 0 1 1733.0,606.1 A12.7,3.6 0 0 1 1707.6,606.1 Z" fill="url(#gDomeG)"/>
<path d="M1752.0,606.1 A12.7,14.5 0 0 1 1777.4,606.1 A12.7,3.6 0 0 1 1752.0,606.1 Z" fill="url(#gDomeG)"/>
<path d="M1796.4,606.1 A12.7,14.5 0 0 1 1821.8,606.1 A12.7,3.6 0 0 1 1796.4,606.1 Z" fill="url(#gDomeG)"/>
<path d="M1840.8,606.1 A12.7,14.5 0 0 1 1866.2,606.1 A12.7,3.6 0 0 1 1840.8,606.1 Z" fill="url(#gDomeG)"/>
<path d="M1885.2,606.1 A12.7,14.5 0 0 1 1910.6,606.1 A12.7,3.6 0 0 1 1885.2,606.1 Z" fill="url(#gDomeG)"/>
<path d="M1929.6,606.1 A12.7,14.5 0 0 1 1955.0,606.1 A12.7,3.6 0 0 1 1929.6,606.1 Z" fill="url(#gDomeG)"/>
<path d="M1974.0,606.1 A12.7,14.5 0 0 1 1999.4,606.1 A12.7,3.6 0 0 1 1974.0,606.1 Z" fill="url(#gDomeG)"/>
<path d="M1632.8,630.4 A12.7,14.5 0 0 1 1658.2,630.4 A12.7,3.6 0 0 1 1632.8,630.4 Z" fill="url(#gDomeG)"/>
<path d="M1677.2,630.4 A12.7,14.5 0 0 1 1702.6,630.4 A12.7,3.6 0 0 1 1677.2,630.4 Z" fill="url(#gDomeG)"/>
<path d="M1721.6,630.4 A12.7,14.5 0 0 1 1747.0,630.4 A12.7,3.6 0 0 1 1721.6,630.4 Z" fill="url(#gDomeG)"/>
<path d="M1766.0,630.4 A12.7,14.5 0 0 1 1791.4,630.4 A12.7,3.6 0 0 1 1766.0,630.4 Z" fill="url(#gDomeG)"/>
<path d="M1810.4,630.4 A12.7,14.5 0 0 1 1835.8,630.4 A12.7,3.6 0 0 1 1810.4,630.4 Z" fill="url(#gDomeG)"/>
<path d="M1854.8,630.4 A12.7,14.5 0 0 1 1880.2,630.4 A12.7,3.6 0 0 1 1854.8,630.4 Z" fill="url(#gDomeG)"/>
<path d="M1899.2,630.4 A12.7,14.5 0 0 1 1924.6,630.4 A12.7,3.6 0 0 1 1899.2,630.4 Z" fill="url(#gDomeG)"/>
<path d="M1943.6,630.4 A12.7,14.5 0 0 1 1969.0,630.4 A12.7,3.6 0 0 1 1943.6,630.4 Z" fill="url(#gDomeG)"/>
<g transform="translate(2,4)">
<line x1="836" y1="670" x2="69.5" y2="826.5" stroke="#000" stroke-width="7" fill="none" opacity="0.28" filter="url(#blur6)"/><line x1="1217.4" y1="667.5" x2="2230" y2="826" stroke="#000" stroke-width="7" fill="none" opacity="0.28" filter="url(#blur6)"/>
<rect x="32.7" y="830" width="2233.6" height="1098.5" rx="30" ry="30" stroke="#000" stroke-width="7" fill="none" opacity="0.28" filter="url(#blur6)"/>
</g>
<rect x="32.7" y="830" width="2233.6" height="1098.5" rx="30" ry="30" fill="#ffffff"/>
<g transform="translate(2,4)">
<rect x="32.7" y="830" width="2233.6" height="1098.5" rx="30" ry="30" stroke="#000" stroke-width="7" fill="none" opacity="0.2" filter="url(#blur6)"/>
</g>
<line x1="836" y1="670" x2="69.5" y2="826.5" stroke="#a6a6a6" stroke-width="5" stroke-dasharray="13.4 5.2" fill="none"/><line x1="1217.4" y1="667.5" x2="2230" y2="826" stroke="#a6a6a6" stroke-width="5" stroke-dasharray="13.4 5.2" fill="none"/>
<rect x="32.7" y="830" width="2233.6" height="1098.5" rx="30" ry="30" stroke="#a6a6a6" stroke-width="5" stroke-dasharray="13.4 5.2" fill="none"/>
<text x="248.8" y="896.0" font-size="50.0" fill="#1c1cd6" text-anchor="start" textLength="235.5" lengthAdjust="spacingAndGlyphs" font-weight="bold">Exposure I</text>
<path d="M141,1239 C117,1240 105,1280 105,1322 C105,1364 117,1402 141,1404 Z" fill="url(#gCyl)"/>
<polygon points="136.7,1211.8 216.2,1143.8 247.1,1145.2 173.2,1213.7" fill="url(#gStop)" />
<polygon points="173.2,1213.7 247.1,1145.2 247.1,1465.0 180.8,1527.4" fill="url(#gSfront)" />
<polygon points="173.2,1213.7 247.1,1145.2 247.1,1465.0 180.8,1527.4" fill="url(#gSfrontV)" />
<polygon points="136.7,1211.8 173.2,1213.7 180.8,1527.4 147.7,1525.2" fill="url(#gSdark)" />
<rect x="199.0" y="1237.0" width="25.0" height="34.0" fill="#3a3ad8" opacity="0.4" filter="url(#blur4)"/>
<polygon points="203.0,1243.0 208.0,1240.0 222.0,1240.0 222.0,1268.0 203.0,1268.0" fill="#1717cf" />
<rect x="189.0" y="1291.5" width="35.0" height="44.5" fill="#3a3ad8" opacity="0.4" filter="url(#blur4)"/>
<polygon points="193.0,1297.5 198.0,1294.5 222.0,1294.5 222.0,1333.0 193.0,1333.0" fill="#1717cf" />
<rect x="189.0" y="1353.0" width="35.0" height="44.5" fill="#3a3ad8" opacity="0.4" filter="url(#blur4)"/>
<polygon points="193.0,1359.0 198.0,1356.0 222.0,1356.0 222.0,1394.5 193.0,1394.5" fill="#1717cf" />
<rect x="201.0" y="1394.0" width="23.0" height="35.0" fill="#3a3ad8" opacity="0.4" filter="url(#blur4)"/>
<polygon points="205.0,1400.0 210.0,1397.0 222.0,1397.0 222.0,1426.0 205.0,1426.0" fill="#1717cf" />
<polygon points="218.8,1213.9 289.9,1144.7 289.9,1418.7 226.2,1529.3" fill="url(#gMask1)" opacity="0.92"/>
<g clip-path="url(#clipBeam1)">
<path d="M266,1181.5 L566,1209 C583,1211 596,1280 596.5,1357 C596,1425 570,1498 543,1505.5 L258,1465 C222,1460 204,1395 204,1327 C204,1255 226,1184 266,1181.5 Z" fill="url(#gBeam1)" opacity="0.97"/>
</g>
<g clip-path="url(#clipMask1)"><path d="M266,1181.5 L566,1209 L543,1505.5 L258,1465 C222,1460 204,1395 204,1327 C204,1255 226,1184 266,1181.5 Z" fill="#d8d4ea" opacity="0.17"/></g>
<ellipse cx="259" cy="1323" rx="27" ry="136" fill="#1a0ad0" opacity="0.25"/>
<polygon points="218.8,1213.9 221.6,1211.2 229.0,1525.5 226.2,1529.3" fill="#707070" />
<polygon points="247.7,1280.0 272.5,1242.8 581.0,1275.5 543.0,1316.5" fill="#0303e5" />
<polygon points="247.7,1280.0 543.0,1316.5 543.0,1453.5 247.7,1410.8" fill="#0000e2" />
<polygon points="250.0,1246.0 258.0,1242.0 258.0,1262.0 250.0,1266.0" fill="#9a92f4" />
<polygon points="263.5,1228.0 272.0,1224.0 272.0,1250.0 263.5,1254.0" fill="#9a92f4" />
<polygon points="250.0,1413.0 258.0,1409.0 258.0,1426.0 250.0,1430.0" fill="#9a92f4" />
<line x1="238" y1="1300.0" x2="246" y2="1296.0" stroke="#8c86ee" stroke-width="1.6"/>
<line x1="238" y1="1305.5" x2="246" y2="1301.5" stroke="#8c86ee" stroke-width="1.6"/>
<line x1="238" y1="1311.0" x2="246" y2="1307.0" stroke="#8c86ee" stroke-width="1.6"/>
<line x1="238" y1="1316.5" x2="246" y2="1312.5" stroke="#8c86ee" stroke-width="1.6"/>
<line x1="238" y1="1322.0" x2="246" y2="1318.0" stroke="#8c86ee" stroke-width="1.6"/>
<line x1="238" y1="1327.5" x2="246" y2="1323.5" stroke="#8c86ee" stroke-width="1.6"/>
<line x1="238" y1="1333.0" x2="246" y2="1329.0" stroke="#8c86ee" stroke-width="1.6"/>
<line x1="238" y1="1362.0" x2="246" y2="1358.0" stroke="#8c86ee" stroke-width="1.6"/>
<line x1="238" y1="1367.5" x2="246" y2="1363.5" stroke="#8c86ee" stroke-width="1.6"/>
<line x1="238" y1="1373.0" x2="246" y2="1369.0" stroke="#8c86ee" stroke-width="1.6"/>
<line x1="238" y1="1378.5" x2="246" y2="1374.5" stroke="#8c86ee" stroke-width="1.6"/>
<line x1="238" y1="1384.0" x2="246" y2="1380.0" stroke="#8c86ee" stroke-width="1.6"/>
<line x1="238" y1="1389.5" x2="246" y2="1385.5" stroke="#8c86ee" stroke-width="1.6"/>
<line x1="238" y1="1395.0" x2="246" y2="1391.0" stroke="#8c86ee" stroke-width="1.6"/>
<polygon points="352.6,1292.4 404.4,1258.6 403.3,1378.0 354.8,1427.8" fill="#00006c" />
<polygon points="352.6,1292.4 355.4,1290.6 357.6,1425.2 354.8,1427.8" fill="#00002c" />
<line x1="108.8" y1="1216.4" x2="125.2" y2="1272" stroke="#b8141c" stroke-width="2.2" fill="none" stroke-linecap="round"/>
<line x1="281.9" y1="1125.2" x2="277.8" y2="1159.7" stroke="#b8141c" stroke-width="2.2" fill="none" stroke-linecap="round"/>
<line x1="387.4" y1="1304.1" x2="322.5" y2="1512.3" stroke="#b8141c" stroke-width="2.2" fill="none" stroke-linecap="round"/>
<line x1="488.2" y1="1390.4" x2="526.4" y2="1572" stroke="#b8141c" stroke-width="2.2" fill="none" stroke-linecap="round"/>
<text x="44.0" y="1124.9" font-size="50.0" fill="#000" text-anchor="start" textLength="128.6" lengthAdjust="spacingAndGlyphs" >Rotate</text>
<text x="58.1" y="1183.9" font-size="50.0" fill="#000" text-anchor="start" textLength="100.4" lengthAdjust="spacingAndGlyphs" >stage</text>
<text x="225.4" y="1095.9" font-size="50.0" fill="#000" text-anchor="start" textLength="111.4" lengthAdjust="spacingAndGlyphs" >Mask</text>
<text x="124.7" y="1572.8" font-size="50.0" fill="#000" text-anchor="start" >S</text>
<text x="316.8" y="1545.2" font-size="50.0" fill="#000" text-anchor="start" textLength="63.5" lengthAdjust="spacingAndGlyphs" >BL</text>
<text x="381.6" y="1555.8" font-size="33.0" fill="#000" text-anchor="start" >A</text>
<text x="458.7" y="1605.5" font-size="50.0" fill="#000" text-anchor="start" textLength="116.0" lengthAdjust="spacingAndGlyphs" >Beam</text>
<line x1="508.5" y1="1073.9" x2="508.5" y2="1023.3" stroke="#000" stroke-width="3.4"/>
<polygon points="508.5,1011.3 521.5,1037.8 508.5,1029.3 495.5,1037.8" fill="#000" />
<line x1="508.5" y1="1073.9" x2="569.2" y2="1073.9" stroke="#000" stroke-width="3.4"/>
<polygon points="581.2,1073.9 554.7,1086.9 563.2,1073.9 554.7,1060.9" fill="#000" />
<line x1="508.5" y1="1073.9" x2="475.6" y2="1103.7" stroke="#000" stroke-width="3.4"/>
<polygon points="466.7,1111.7 477.6,1084.3 480.1,1099.6 495.1,1103.6" fill="#000" />
<text x="527.0" y="1028.0" font-size="50.0" fill="#000" text-anchor="start" font-style="italic">y</text>
<text x="581.0" y="1098.5" font-size="50.0" fill="#000" text-anchor="start" font-style="italic">z</text>
<text x="467.0" y="1144.0" font-size="50.0" fill="#000" text-anchor="start" font-style="italic">x</text>
<text x="264.2" y="1616.4" font-size="50.0" fill="#000" text-anchor="start" textLength="100.6" lengthAdjust="spacingAndGlyphs" >CCD</text>
<rect x="288.8" y="1630.8" width="48.7" height="24.7" fill="#c00000" stroke="#000" stroke-width="3.2"/>
<line x1="310.6" y1="1656.4" x2="310.6" y2="1825" stroke="#4a78b4" stroke-width="2.2"/>
<line x1="312.5" y1="1656.4" x2="312.5" y2="1825" stroke="#222" stroke-width="1" stroke-dasharray="4 3"/>
<line x1="314.6" y1="1656.4" x2="314.6" y2="1825" stroke="#e01818" stroke-width="2.4"/>
<polygon points="309.0,1740.0 304.0,1756.5 311.0,1756.5" fill="#4a78b4" />
<polygon points="314.5,1739.5 306.5,1756.5 323.0,1756.5" fill="#e01818" />
<line x1="167.1" y1="1672" x2="311.5" y2="1825" stroke="#000" stroke-width="3"/>
<line x1="455.2" y1="1669.3" x2="314.5" y2="1825" stroke="#000" stroke-width="3"/>
<polygon points="240.5,1748.5 221.0,1741.5 230.0,1737.0 233.5,1727.0" fill="#000" />
<polygon points="384.0,1748.5 403.5,1741.0 394.5,1736.5 390.5,1726.5" fill="#000" />
<path d="M270,1776 C276,1762 290,1754 310.4,1766" fill="none" stroke="#000" stroke-width="2"/>
<text x="256.0" y="1762.0" font-size="44.0" fill="#000" text-anchor="start" >θ</text>
<text x="129.2" y="1746.4" font-size="50.0" fill="#000" text-anchor="start" >I</text>
<text x="146.5" y="1757.0" font-size="33.0" fill="#000" text-anchor="start" >1</text>
<text x="475.5" y="1748.3" font-size="50.0" fill="#000" text-anchor="start" >I</text>
<text x="491.0" y="1761.0" font-size="33.0" fill="#000" text-anchor="start" >2</text>
<text x="234.8" y="1709.2" font-size="50.0" fill="#2e75b6" text-anchor="start" >I</text>
<text x="253.5" y="1721.0" font-size="33.0" fill="#2e75b6" text-anchor="start" textLength="48.0" lengthAdjust="spacingAndGlyphs" >1,-1</text>
<text x="322.9" y="1709.2" font-size="50.0" fill="#e01818" text-anchor="start" >I</text>
<text x="338.6" y="1721.0" font-size="33.0" fill="#e01818" text-anchor="start" textLength="57.4" lengthAdjust="spacingAndGlyphs" >2,+1</text>
<line x1="166" y1="1825" x2="461" y2="1825" stroke="#333" stroke-width="4.6" stroke-dasharray="11 6.9"/>
<rect x="159.7" y="1827.4" width="306.8" height="12.9" fill="#dcdcdc" stroke="#222" stroke-width="1.2"/>
<text x="153.8" y="1895.1" font-size="50.0" fill="#000" text-anchor="start" textLength="327.6" lengthAdjust="spacingAndGlyphs" >Alignment mark</text>
<text x="153.4" y="2012.5" font-size="48.0" fill="#000" text-anchor="start" textLength="56.0" lengthAdjust="spacingAndGlyphs" >(b)</text>
<polygon points="643.0,1350.0 740.0,1350.0 740.0,1340.2 760.0,1360.0 740.0,1379.8 740.0,1370.0 643.0,1370.0" fill="#000" opacity="0.25" filter="url(#blur6)"/>
<polygon points="638.0,1341.0 735.0,1341.0 735.0,1331.2 755.0,1351.0 735.0,1370.8 735.0,1361.0 638.0,1361.0" fill="url(#gYelH)" />
<text x="940.5" y="895.7" font-size="50.0" fill="#1c1cd6" text-anchor="start" textLength="252.5" lengthAdjust="spacingAndGlyphs" font-weight="bold">Exposure II</text>
<rect x="824.0" y="975.3" width="154.8" height="124.4" fill="#000"/>
<rect x="828.8" y="980.2" width="10.3" height="55.1" fill="#ebebeb"/>
<rect x="843.8" y="980.2" width="17.8" height="55.1" fill="#444444"/>
<rect x="865.8" y="980.2" width="18.5" height="55.1" fill="#ebebeb"/>
<rect x="888.4" y="980.2" width="18.5" height="55.1" fill="#444444"/>
<rect x="911.0" y="980.2" width="18.5" height="55.1" fill="#ebebeb"/>
<rect x="933.6" y="980.2" width="19.2" height="55.1" fill="#444444"/>
<rect x="956.8" y="980.2" width="17.1" height="55.1" fill="#ebebeb"/>
<rect x="828.8" y="1039.7" width="2.1" height="55.1" fill="#ebebeb"/>
<rect x="835.6" y="1039.7" width="17.8" height="55.1" fill="#2418e4"/>
<rect x="857.5" y="1039.7" width="18.5" height="55.1" fill="#ebebeb"/>
<rect x="880.8" y="1039.7" width="17.8" height="55.1" fill="#2418e4"/>
<rect x="902.7" y="1039.7" width="18.5" height="55.1" fill="#ebebeb"/>
<rect x="925.3" y="1039.7" width="18.5" height="55.1" fill="#2418e4"/>
<rect x="947.9" y="1039.7" width="26.0" height="55.1" fill="#ebebeb"/>
<polygon points="986.0,1032.0 1011.0,1032.0 1011.0,1023.5 1026.0,1038.0 1011.0,1052.5 1011.0,1044.0 986.0,1044.0" fill="#454545" />
<rect x="990.0" y="1035.4" width="27.0" height="5.2" fill="#9fc3e2"/>
<rect x="1037.0" y="975.3" width="155.0" height="124.4" fill="#000"/>
<rect x="1041.8" y="980.2" width="10.6" height="55.1" fill="#ebebeb"/>
<rect x="1056.5" y="980.2" width="18.5" height="55.1" fill="#444444"/>
<rect x="1079.1" y="980.2" width="18.5" height="55.1" fill="#ebebeb"/>
<rect x="1101.7" y="980.2" width="18.5" height="55.1" fill="#444444"/>
<rect x="1124.3" y="980.2" width="18.2" height="55.1" fill="#ebebeb"/>
<rect x="1146.6" y="980.2" width="18.8" height="55.1" fill="#444444"/>
<rect x="1169.5" y="980.2" width="17.8" height="55.1" fill="#ebebeb"/>
<rect x="1041.8" y="1039.7" width="10.6" height="55.1" fill="#ebebeb"/>
<rect x="1056.5" y="1039.7" width="18.5" height="55.1" fill="#2418e4"/>
<rect x="1079.1" y="1039.7" width="18.5" height="55.1" fill="#ebebeb"/>
<rect x="1101.7" y="1039.7" width="18.5" height="55.1" fill="#2418e4"/>
<rect x="1124.3" y="1039.7" width="18.2" height="55.1" fill="#ebebeb"/>
<rect x="1146.6" y="1039.7" width="18.8" height="55.1" fill="#2418e4"/>
<rect x="1169.5" y="1039.7" width="17.8" height="55.1" fill="#ebebeb"/>
<line x1="1037.6" y1="943.8" x2="1037.6" y2="976.0" stroke="#000" stroke-width="1.8"/>
<line x1="1186.6" y1="943.8" x2="1186.6" y2="976.0" stroke="#000" stroke-width="1.8"/>
<line x1="1045.6" y1="961.6" x2="1178.6" y2="961.6" stroke="#000" stroke-width="2.2"/>
<polygon points="1038.1,961.6 1055.6,953.6 1055.6,969.6" fill="#000" />
<polygon points="1186.1,961.6 1168.6,953.6 1168.6,969.6" fill="#000" />
<text x="1070.5" y="953.0" font-size="35.5" fill="#000" text-anchor="start" textLength="73.0" lengthAdjust="spacingAndGlyphs" >5mm</text>
<path d="M838,1249 C818,1252 810,1292 810.3,1329 C810.5,1366 819,1404 840,1407.5 Z" fill="url(#gCyl)"/>
<polygon points="831.0,1220.1 920.1,1151.8 950.5,1153.4 868.0,1223.1" fill="url(#gStop)" />
<polygon points="868.0,1223.1 950.5,1153.4 950.5,1470.0 893.7,1534.0" fill="url(#gSfront2)" />
<polygon points="868.0,1223.1 950.5,1153.4 950.5,1470.0 893.7,1534.0" fill="url(#gSfrontV)" />
<polygon points="831.0,1220.1 868.0,1223.1 893.7,1534.0 859.5,1532.5" fill="url(#gSdark)" />
<polygon points="905.0,1285.3 949.9,1256.5 996.0,1256.5 996.0,1411.2 913.5,1406.6" fill="#2424c4" />
<polygon points="918.0,1222.5 991.4,1152.8 992.3,1462.8 939.9,1538.0" fill="url(#gMask2)" opacity="0.93"/>
<polygon points="918.0,1222.5 921.8,1219.0 943.6,1533.0 939.9,1538.0" fill="#b86a78" />
<polygon points="930.0,1270.0 992.0,1250.0 992.0,1415.0 940.0,1415.0" fill="#5a48d8" opacity="0.28" filter="url(#blur6)"/>
<polygon points="951.0,1290.0 992.0,1262.0 992.0,1405.0 957.0,1410.0" fill="#2c2cc8" opacity="0.85"/>
<polygon points="954.5,1255.5 963.5,1250.0 963.5,1270.5 954.5,1275.0" fill="#fff" opacity="0.55" filter="url(#blur2)"/>
<polygon points="954.5,1255.5 963.5,1250.0 963.5,1270.5 954.5,1275.0" fill="#fbf6fa" />
<polygon points="969.5,1239.0 978.5,1234.0 978.5,1254.0 969.5,1258.5" fill="#fff" opacity="0.55" filter="url(#blur2)"/>
<polygon points="969.5,1239.0 978.5,1234.0 978.5,1254.0 969.5,1258.5" fill="#fbf6fa" />
<polygon points="954.5,1413.0 962.0,1409.0 962.0,1428.0 954.5,1431.0" fill="#fff" opacity="0.55" filter="url(#blur2)"/>
<polygon points="954.5,1413.0 962.0,1409.0 962.0,1428.0 954.5,1431.0" fill="#fbf6fa" />
<polygon points="962.0,1420.0 971.0,1416.0 971.0,1435.0 962.0,1438.0" fill="#fff" opacity="0.55" filter="url(#blur2)"/>
<polygon points="962.0,1420.0 971.0,1416.0 971.0,1435.0 962.0,1438.0" fill="#fbf6fa" />
<line x1="942" y1="1311.0" x2="957" y2="1306.0" stroke="#fff" stroke-width="2.6" opacity="0.95"/>
<line x1="942" y1="1316.6" x2="957" y2="1311.6" stroke="#fff" stroke-width="2.6" opacity="0.95"/>
<line x1="942" y1="1322.2" x2="957" y2="1317.2" stroke="#fff" stroke-width="2.6" opacity="0.95"/>
<line x1="942" y1="1327.8" x2="957" y2="1322.8" stroke="#fff" stroke-width="2.6" opacity="0.95"/>
<line x1="942" y1="1333.4" x2="957" y2="1328.4" stroke="#fff" stroke-width="2.6" opacity="0.95"/>
<line x1="942" y1="1339.0" x2="957" y2="1334.0" stroke="#fff" stroke-width="2.6" opacity="0.95"/>
<line x1="942" y1="1344.6" x2="957" y2="1339.6" stroke="#fff" stroke-width="2.6" opacity="0.95"/>
<line x1="942" y1="1371.0" x2="957" y2="1366.0" stroke="#fff" stroke-width="2.6" opacity="0.95"/>
<line x1="942" y1="1376.6" x2="957" y2="1371.6" stroke="#fff" stroke-width="2.6" opacity="0.95"/>
<line x1="942" y1="1382.2" x2="957" y2="1377.2" stroke="#fff" stroke-width="2.6" opacity="0.95"/>
<line x1="942" y1="1387.8" x2="957" y2="1382.8" stroke="#fff" stroke-width="2.6" opacity="0.95"/>
<line x1="942" y1="1393.4" x2="957" y2="1388.4" stroke="#fff" stroke-width="2.6" opacity="0.95"/>
<line x1="942" y1="1399.0" x2="957" y2="1394.0" stroke="#fff" stroke-width="2.6" opacity="0.95"/>
<line x1="942" y1="1404.6" x2="957" y2="1399.6" stroke="#fff" stroke-width="2.6" opacity="0.95"/>
<line x1="958" y1="1413" x2="984" y2="1371" stroke="#b9b4f4" stroke-width="2.4"/>
<polygon points="949.9,1265.6 1000.0,1266.8 1000.0,1286.3 949.9,1285.3" fill="#4a6cf4" />
<ellipse cx="950" cy="1272" rx="13" ry="13" fill="#dfe6ff" opacity="0.85" filter="url(#blur4)"/>
<polygon points="985.6,1222.5 1040.9,1152.8 1042.0,1421.0 1001.5,1538.0" fill="url(#gBLB2)" />
<polygon points="979.6,1222.5 1036.3,1151.8 1040.9,1152.8 985.6,1222.5" fill="#8a8a8a" />
<polygon points="979.6,1222.5 985.6,1222.5 1001.5,1538.0 995.0,1538.0" fill="#0a0a0a" />
<path d="M1025.6,1216 L1356,1338 C1368,1352 1374,1385 1373,1423 C1372,1500 1318,1606 1280.5,1618 L1014,1448 C1004,1436 998,1380 998,1323 C998,1268 1008,1222 1025.6,1216 Z" fill="url(#gCone1)"/>
<path d="M1025.6,1214 L1275.9,1166.1 C1305,1168 1333,1210 1333.6,1256.5 C1334,1300 1322,1326 1307.8,1334 L1022.5,1443.5 C1006,1436 998,1380 998,1323 C998,1268 1008,1220 1025.6,1214 Z" fill="url(#gCone2)"/>
<path clip-path="url(#clipC1)" d="M1025.6,1214 L1275.9,1166.1 C1305,1168 1333,1210 1333.6,1256.5 C1334,1300 1322,1326 1307.8,1334 L1022.5,1443.5 C1006,1436 998,1380 998,1323 C998,1268 1008,1220 1025.6,1214 Z" fill="#0a0adc" opacity="0.94"/>
<g clip-path="url(#clipBLB2)">
<path d="M1025.6,1216 L1356,1338 C1368,1352 1374,1385 1373,1423 C1372,1500 1318,1606 1280.5,1618 L1014,1448 C1004,1436 998,1380 998,1323 C998,1268 1008,1222 1025.6,1216 Z" fill="#00002a" opacity="0.42"/>
<path d="M1025.6,1214 L1275.9,1166.1 C1305,1168 1333,1210 1333.6,1256.5 C1334,1300 1322,1326 1307.8,1334 L1022.5,1443.5 C1006,1436 998,1380 998,1323 C998,1268 1008,1220 1025.6,1214 Z" fill="#00002a" opacity="0.30"/>
<ellipse cx="1024" cy="1326" rx="17" ry="98" fill="#0a0ae0" opacity="0.55"/>
</g>
<path d="M1008.6,1264.7 L1032.5,1241.6 L1034.8,1366.4 L1011.7,1406.5 Z" fill="none" stroke="#02020c" stroke-width="3.2" opacity="0.7"/>
<polygon points="998.0,1266.8 1341.2,1272.0 1341.2,1292.0 998.0,1286.3" fill="url(#gThinB)" opacity="0.95"/>
<polygon points="1000.0,1273.0 1341.0,1278.0 1341.0,1286.0 1000.0,1280.0" fill="url(#gThinH)" />
<rect x="1337.8" y="1257" width="8" height="49" rx="3" fill="#3c3f48"/>
<rect x="1344.6" y="1255.7" width="19.6" height="51.8" rx="3" fill="#e9705c"/>
<rect x="1344.6" y="1255.7" width="4" height="51.8" rx="2" fill="#c85a46"/>
<line x1="741" y1="1252.8" x2="816" y2="1341.7" stroke="#b8141c" stroke-width="2.2" fill="none" stroke-linecap="round"/>
<line x1="995.4" y1="1147.3" x2="1057.5" y2="1139.7" stroke="#b8141c" stroke-width="2.2" fill="none" stroke-linecap="round"/>
<line x1="1016.6" y1="1496.1" x2="1104.6" y2="1477.3" stroke="#b8141c" stroke-width="2.2" fill="none" stroke-linecap="round"/>
<text x="676.4" y="1161.2" font-size="50.0" fill="#000" text-anchor="start" textLength="128.6" lengthAdjust="spacingAndGlyphs" >Rotate</text>
<text x="690.4" y="1219.8" font-size="50.0" fill="#000" text-anchor="start" textLength="101.3" lengthAdjust="spacingAndGlyphs" >stage</text>
<text x="1062.0" y="1151.8" font-size="50.0" fill="#000" text-anchor="start" textLength="110.0" lengthAdjust="spacingAndGlyphs" >Mask</text>
<text x="807.0" y="1488.5" font-size="50.0" fill="#000" text-anchor="start" >S</text>
<text x="1168.5" y="1235.1" font-size="50.0" fill="#fff" text-anchor="start" textLength="139.9" lengthAdjust="spacingAndGlyphs" >Beam2</text>
<text x="1203.5" y="1454.8" font-size="50.0" fill="#fff" text-anchor="start" textLength="135.0" lengthAdjust="spacingAndGlyphs" >Beam1</text>
<text x="1105.7" y="1481.8" font-size="50.0" fill="#fff" text-anchor="start" textLength="62.6" lengthAdjust="spacingAndGlyphs" >BL</text>
<text x="1170.0" y="1493.1" font-size="31.0" fill="#fff" text-anchor="start" >B</text>
<text x="1334.0" y="1246.0" font-size="50.0" fill="#000" text-anchor="start" textLength="102.0" lengthAdjust="spacingAndGlyphs" >CCD</text>
<line x1="893.4" y1="1614.7" x2="894.0" y2="1563.6" stroke="#000" stroke-width="3.4"/>
<polygon points="894.2,1551.6 906.9,1578.3 894.0,1569.6 880.9,1577.9" fill="#000" />
<line x1="893.4" y1="1614.7" x2="955.2" y2="1614.0" stroke="#000" stroke-width="3.4"/>
<polygon points="967.2,1613.9 940.8,1627.2 949.2,1614.1 940.6,1601.2" fill="#000" />
<line x1="893.4" y1="1614.7" x2="859.3" y2="1646.2" stroke="#000" stroke-width="3.4"/>
<polygon points="850.5,1654.3 861.2,1626.8 863.7,1642.1 878.8,1645.9" fill="#000" />
<text x="911.0" y="1569.0" font-size="50.0" fill="#000" text-anchor="start" font-style="italic">y</text>
<text x="965.0" y="1640.5" font-size="50.0" fill="#000" text-anchor="start" font-style="italic">z</text>
<text x="851.0" y="1683.5" font-size="50.0" fill="#000" text-anchor="start" font-style="italic">x</text>
<rect x="910.0" y="1671.4" width="195.2" height="194.4" fill="#000"/>
<rect x="915.0" y="1676.3" width="10.2" height="54.8" fill="#ebebeb"/>
<rect x="930.0" y="1676.3" width="38.2" height="54.8" fill="#444444"/>
<rect x="973.1" y="1676.3" width="42.1" height="54.8" fill="#ebebeb"/>
<rect x="1020.0" y="1676.3" width="42.1" height="54.8" fill="#444444"/>
<rect x="1067.0" y="1676.3" width="33.3" height="54.8" fill="#ebebeb"/>
<rect x="915.0" y="1736.0" width="10.2" height="124.9" fill="#ebebeb"/>
<rect x="930.0" y="1736.0" width="17.0" height="124.9" fill="#5b55e6"/>
<rect x="951.9" y="1736.0" width="18.2" height="124.9" fill="#ebebeb"/>
<rect x="975.0" y="1736.0" width="17.0" height="124.9" fill="#5b55e6"/>
<rect x="996.9" y="1736.0" width="18.2" height="124.9" fill="#ebebeb"/>
<rect x="1020.0" y="1736.0" width="18.0" height="124.9" fill="#5b55e6"/>
<rect x="1042.9" y="1736.0" width="19.2" height="124.9" fill="#ebebeb"/>
<rect x="1067.0" y="1736.0" width="17.2" height="124.9" fill="#5b55e6"/>
<rect x="1088.9" y="1736.0" width="11.4" height="124.9" fill="#ebebeb"/>
<line x1="1017.3" y1="1639.1" x2="1017.3" y2="1672.0" stroke="#000" stroke-width="1.8"/>
<line x1="1100.9" y1="1639.1" x2="1100.9" y2="1672.0" stroke="#000" stroke-width="1.8"/>
<line x1="1025.3" y1="1656.4" x2="1092.9" y2="1656.4" stroke="#000" stroke-width="2.2"/>
<polygon points="1017.8,1656.4 1035.3,1648.4 1035.3,1664.4" fill="#000" />
<polygon points="1100.4,1656.4 1082.9,1648.4 1082.9,1664.4" fill="#000" />
<text x="1026.9" y="1640.1" font-size="35.5" fill="#000" text-anchor="start" textLength="64.6" lengthAdjust="spacingAndGlyphs" >2μm</text>
<text x="1291.5" y="1022.8" font-size="50.0" fill="#000" text-anchor="start" textLength="370.0" lengthAdjust="spacingAndGlyphs" >Initial CCD image</text>
<text x="1243.6" y="1082.6" font-size="50.0" fill="#2814d2" text-anchor="start" textLength="449.6" lengthAdjust="spacingAndGlyphs" >Real-time CCD image</text>
<text x="1178.0" y="1724.0" font-size="50.0" fill="#000" text-anchor="start" textLength="348.5" lengthAdjust="spacingAndGlyphs" >Alignment marks</text>
<text x="1176.6" y="1785.5" font-size="50.0" fill="#2a16d6" text-anchor="start" textLength="359.4" lengthAdjust="spacingAndGlyphs" >Exposure patterns</text>
<line x1="1430.0" y1="1575.0" x2="1430.4" y2="1523.0" stroke="#000" stroke-width="3.4"/>
<polygon points="1430.5,1511.0 1443.3,1537.6 1430.4,1529.0 1417.3,1537.4" fill="#000" />
<line x1="1430.0" y1="1575.0" x2="1491.5" y2="1574.6" stroke="#000" stroke-width="3.4"/>
<polygon points="1503.5,1574.5 1477.1,1587.7 1485.5,1574.6 1476.9,1561.7" fill="#000" />
<line x1="1430.0" y1="1575.0" x2="1396.6" y2="1606.3" stroke="#000" stroke-width="3.4"/>
<polygon points="1387.8,1614.5 1398.3,1586.9 1400.9,1602.2 1416.0,1605.9" fill="#000" />
<text x="1451.0" y="1529.7" font-size="50.0" fill="#000" text-anchor="start" font-style="italic">y</text>
<text x="1502.0" y="1598.7" font-size="50.0" fill="#000" text-anchor="start" font-style="italic">x</text>
<text x="1388.0" y="1643.0" font-size="50.0" fill="#000" text-anchor="start" font-style="italic">z</text>
<polygon points="1422.0,1356.2 1518.4,1356.2 1518.4,1346.5 1538.4,1366.2 1518.4,1386.0 1518.4,1376.2 1422.0,1376.2" fill="#000" opacity="0.25" filter="url(#blur6)"/>
<polygon points="1417.0,1347.2 1513.4,1347.2 1513.4,1337.5 1533.4,1357.2 1513.4,1377.0 1513.4,1367.2 1417.0,1367.2" fill="url(#gYelH)" />
<text x="1784.0" y="898.3" font-size="50.0" fill="#1c1cd6" text-anchor="start" textLength="273.0" lengthAdjust="spacingAndGlyphs" font-weight="bold">Exposure III</text>
<rect x="1735.0" y="975.1" width="155.0" height="125.0" fill="#000"/>
<rect x="1739.9" y="980.0" width="10.3" height="55.0" fill="#ebebeb"/>
<rect x="1755.0" y="980.0" width="18.3" height="55.0" fill="#444444"/>
<rect x="1777.8" y="980.0" width="17.6" height="55.0" fill="#ebebeb"/>
<rect x="1799.8" y="980.0" width="18.3" height="55.0" fill="#444444"/>
<rect x="1822.6" y="980.0" width="18.1" height="55.0" fill="#ebebeb"/>
<rect x="1845.5" y="980.0" width="17.9" height="55.0" fill="#444444"/>
<rect x="1867.8" y="980.0" width="17.4" height="55.0" fill="#ebebeb"/>
<rect x="1739.9" y="1040.0" width="145.3" height="55.2" fill="#ebebeb"/>
<g clip-path="url(#clipBoxC)">
<polygon points="1736.7,1037.5 1761.2,1037.5 1785.6,1097.5 1764.1,1097.5" fill="#2418e4" stroke="#c00000" stroke-width="3.6" stroke-dasharray="10 6"/>
<polygon points="1784.4,1037.5 1808.9,1037.5 1834.1,1097.5 1811.3,1097.5" fill="#2418e4" stroke="#c00000" stroke-width="3.6" stroke-dasharray="10 6"/>
<polygon points="1833.3,1037.5 1859.0,1037.5 1882.2,1097.5 1860.2,1097.5" fill="#2418e4" stroke="#c00000" stroke-width="3.6" stroke-dasharray="10 6"/>
</g>
<polygon points="1906.7,1032.2 1930.8,1032.2 1930.8,1023.7 1945.8,1038.2 1930.8,1052.7 1930.8,1044.2 1906.7,1044.2" fill="#454545" />
<rect x="1910.7" y="1035.6" width="26.1" height="5.2" fill="#9fc3e2"/>
<rect x="1956.8" y="975.1" width="155.4" height="125.0" fill="#000"/>
<rect x="1962.2" y="980.0" width="9.8" height="55.0" fill="#ebebeb"/>
<rect x="1976.9" y="980.0" width="18.3" height="55.0" fill="#444444"/>
<rect x="2000.1" y="980.0" width="17.1" height="55.0" fill="#ebebeb"/>
<rect x="2022.2" y="980.0" width="17.9" height="55.0" fill="#444444"/>
<rect x="2044.9" y="980.0" width="17.9" height="55.0" fill="#ebebeb"/>
<rect x="2067.7" y="980.0" width="18.1" height="55.0" fill="#444444"/>
<rect x="2090.2" y="980.0" width="17.1" height="55.0" fill="#ebebeb"/>
<rect x="1962.2" y="1040.0" width="9.8" height="55.2" fill="#ebebeb"/>
<rect x="1976.9" y="1040.0" width="18.3" height="55.2" fill="#2418e4"/>
<rect x="2000.1" y="1040.0" width="17.1" height="55.2" fill="#ebebeb"/>
<rect x="2022.2" y="1040.0" width="17.9" height="55.2" fill="#2418e4"/>
<rect x="2044.9" y="1040.0" width="17.9" height="55.2" fill="#ebebeb"/>
<rect x="2067.7" y="1040.0" width="18.1" height="55.2" fill="#2418e4"/>
<rect x="2090.2" y="1040.0" width="17.1" height="55.2" fill="#ebebeb"/>
<line x1="1958.8" y1="944.0" x2="1958.8" y2="976.0" stroke="#000" stroke-width="1.8"/>
<line x1="2109.0" y1="944.0" x2="2109.0" y2="976.0" stroke="#000" stroke-width="1.8"/>
<line x1="1966.8" y1="961.2" x2="2101.0" y2="961.2" stroke="#000" stroke-width="2.2"/>
<polygon points="1959.3,961.2 1976.8,953.2 1976.8,969.2" fill="#000" />
<polygon points="2108.5,961.2 2091.0,953.2 2091.0,969.2" fill="#000" />
<text x="1998.4" y="950.0" font-size="35.5" fill="#000" text-anchor="start" textLength="73.4" lengthAdjust="spacingAndGlyphs" >5mm</text>
<polygon points="1753.7,1198.5 2041.0,1198.5 2045.0,1205.0 1750.0,1205.0" fill="#5a5a5a" />
<polygon points="1750.0,1204.4 2045.0,1204.4 2046.5,1206.6 1748.5,1206.6" fill="#c0707a" />
<polygon points="1748.0,1206.4 2047.0,1206.4 2047.6,1210.4 1746.6,1208.8" fill="#4a4a4a" />
<path d="M1879.7,1252.4 L1600,1323 C1580,1330 1568,1355 1568,1390 C1570,1450 1610,1545 1640,1559 L1882.9,1457.4 Z" fill="url(#gWing)"/>
<path d="M1879.7,1252.4 L2158,1324.5 C2178,1332 2189,1355 2189,1390 C2187,1450 2135,1552 2102.5,1562.4 L1882.9,1457.4 Z" fill="url(#gWing)"/>
<polygon points="1746.6,1208.8 2047.6,1210.4 2033.0,1480.0 1761.8,1478.4" fill="url(#gPlate3)" />
<g clip-path="url(#clipP3)">
<path d="M1879.7,1252.4 L1600,1323 C1580,1330 1568,1355 1568,1390 C1570,1450 1610,1545 1640,1559 L1882.9,1457.4 Z M1879.7,1252.4 L2158,1324.5 C2178,1332 2189,1355 2189,1390 C2187,1450 2135,1552 2102.5,1562.4 L1882.9,1457.4 Z" fill="#05052a" opacity="0.96"/>
<polygon points="1882.9,1457.4 1832.0,1478.6 1936.0,1478.6" fill="#3a3a3a" />
</g>
<ellipse cx="1883" cy="1373" rx="95" ry="96" fill="none" stroke="#000008" stroke-width="2" opacity="0.35"/>
<polygon points="1841.0,1297.0 1954.6,1297.0 1953.3,1403.5 1840.3,1401.6" fill="#17176e" />
<rect x="1829.6" y="1269.2" width="24.9" height="23.6" fill="#241c96"/>
<rect x="1834.6" y="1272.2" width="13.9" height="13.6" fill="#2a2ad0"/>
<rect x="1959.7" y="1281.5" width="24.9" height="24.2" fill="#241c96"/>
<rect x="1964.7" y="1284.5" width="13.9" height="14.2" fill="#8f86f6"/>
<rect x="1942.6" y="1408.3" width="24.9" height="21.7" fill="#241c96"/>
<rect x="1947.6" y="1411.3" width="13.9" height="11.7" fill="#6a62ea"/>
<polygon points="1833.5,1272.0 1852.2,1272.0 1838.0,1377.0 1807.0,1377.0" fill="url(#gThin3)" />
<rect x="1787.6" y="1375.1" width="56.5" height="58.1" rx="5" fill="url(#gCCD3)"/>
<polygon points="1790.0,1378.0 1842.0,1378.0 1816.0,1404.0" fill="#f7a896" opacity="0.9"/>
<polygon points="1790.0,1431.0 1842.0,1431.0 1816.0,1404.0" fill="#f5a592" opacity="0.9"/>
<polygon points="1790.0,1378.0 1790.0,1431.0 1816.0,1404.0" fill="#f9b8a8" opacity="0.9"/>
<polygon points="1842.0,1378.0 1842.0,1431.0 1816.0,1404.0" fill="#f09784" opacity="0.9"/>
<line x1="1816.7" y1="1375.1" x2="1874.8" y2="1423.5" stroke="#b8141c" stroke-width="2.2" fill="none" stroke-linecap="round"/>
<polyline points="1899.7,1148 1899.7,1230 1822,1230" fill="none" stroke="#ff0000" stroke-width="5.2" stroke-linejoin="miter"/>
<polygon points="1900.0,1120.8 1886.5,1148.5 1913.5,1148.5" fill="#ff0000" />
<polygon points="1798.5,1230.0 1825.5,1216.5 1825.5,1243.5" fill="#ff0000" />
<path d="M1846,1214 C1828,1200 1826,1176 1840,1165 C1848,1159.5 1858,1157.5 1866,1156.5" fill="none" stroke="#ff0000" stroke-width="7"/>
<polygon points="1878.5,1155.0 1863.0,1146.0 1866.5,1168.5" fill="#ff0000" />
<line x1="2044.3" y1="1145.8" x2="2005.6" y2="1196.5" stroke="#b8141c" stroke-width="2.2" fill="none" stroke-linecap="round"/>
<line x1="2041" y1="1205" x2="2089.5" y2="1200.7" stroke="#b8141c" stroke-width="2.2" fill="none" stroke-linecap="round"/>
<line x1="2047.6" y1="1230.8" x2="2117" y2="1252.4" stroke="#b8141c" stroke-width="2.2" fill="none" stroke-linecap="round"/>
<text x="1619.7" y="1179.0" font-size="50.0" fill="#000" text-anchor="start" textLength="211.5" lengthAdjust="spacingAndGlyphs" >Rotate 90°</text>
<text x="2054.0" y="1145.2" font-size="50.0" fill="#000" text-anchor="start" >S</text>
<text x="2088.0" y="1225.0" font-size="50.0" fill="#000" text-anchor="start" textLength="111.3" lengthAdjust="spacingAndGlyphs" >Mask</text>
<text x="2120.0" y="1288.0" font-size="50.0" fill="#000" text-anchor="start" textLength="62.6" lengthAdjust="spacingAndGlyphs" >BL</text>
<text x="2182.6" y="1301.0" font-size="33.0" fill="#000" text-anchor="start" >B</text>
<text x="1600.4" y="1441.3" font-size="50.0" fill="#fff" text-anchor="start" textLength="135.6" lengthAdjust="spacingAndGlyphs" >Beam1</text>
<text x="2041.0" y="1441.3" font-size="50.0" fill="#fff" text-anchor="start" textLength="139.0" lengthAdjust="spacingAndGlyphs" >Beam2</text>
<text x="1827.4" y="1523.6" font-size="50.0" fill="#000" text-anchor="start" textLength="100.6" lengthAdjust="spacingAndGlyphs" >CCD</text>
<rect x="1609.7" y="1669.5" width="193.2" height="61.4" fill="#ebebeb"/>
<polygon points="1614.4,1673.6 1650.4,1673.6 1678.6,1729.9 1641.1,1729.9" fill="#444444" />
<polygon points="1700.5,1673.6 1738.1,1673.6 1766.3,1729.9 1727.2,1729.9" fill="#444444" />
<rect x="1609.7" y="1729.9" width="193.2" height="134.6" fill="#000"/>
<rect x="1613.8" y="1734.6" width="184.7" height="10.0" fill="#ebebeb"/>
<rect x="1613.8" y="1746.5" width="184.7" height="21.0" fill="#5b55e6"/>
<rect x="1613.8" y="1769.4" width="184.7" height="22.2" fill="#ebebeb"/>
<rect x="1613.8" y="1793.5" width="184.7" height="21.9" fill="#5b55e6"/>
<rect x="1613.8" y="1817.3" width="184.7" height="20.7" fill="#ebebeb"/>
<rect x="1613.8" y="1839.8" width="184.7" height="20.0" fill="#5b55e6"/>
<g clip-path="url(#clipF)">
<polygon points="1515.8,1734.6 1535.2,1734.6 1598.2,1860.5 1578.7,1860.5" fill="#2a22e0" opacity="0.75"/>
<polygon points="1558.9,1734.6 1578.3,1734.6 1641.2,1860.5 1621.8,1860.5" fill="#2a22e0" opacity="0.75"/>
<polygon points="1601.9,1734.6 1621.3,1734.6 1684.3,1860.5 1664.8,1860.5" fill="#2a22e0" opacity="0.75"/>
<polygon points="1645.0,1734.6 1664.4,1734.6 1727.3,1860.5 1707.9,1860.5" fill="#2a22e0" opacity="0.75"/>
<polygon points="1688.0,1734.6 1707.4,1734.6 1770.4,1860.5 1750.9,1860.5" fill="#2a22e0" opacity="0.75"/>
<polygon points="1731.1,1734.6 1750.5,1734.6 1813.4,1860.5 1794.0,1860.5" fill="#2a22e0" opacity="0.75"/>
<polygon points="1774.1,1734.6 1793.5,1734.6 1856.5,1860.5 1837.0,1860.5" fill="#2a22e0" opacity="0.75"/>
<polygon points="1817.2,1734.6 1836.6,1734.6 1899.5,1860.5 1880.1,1860.5" fill="#2a22e0" opacity="0.75"/>
<polygon points="1860.2,1734.6 1879.6,1734.6 1942.6,1860.5 1923.1,1860.5" fill="#2a22e0" opacity="0.75"/>
<rect x="1613.8" y="1744.6" width="184.7" height="1.9" fill="#000" opacity="0.85"/>
<rect x="1613.8" y="1767.5" width="184.7" height="1.9" fill="#000" opacity="0.85"/>
<rect x="1613.8" y="1791.6" width="184.7" height="1.9" fill="#000" opacity="0.85"/>
<rect x="1613.8" y="1815.4" width="184.7" height="1.9" fill="#000" opacity="0.85"/>
<rect x="1613.8" y="1837.9" width="184.7" height="1.9" fill="#000" opacity="0.85"/>
</g>
<g clip-path="url(#clipF)">
<line x1="1514.3" y1="1731.5" x2="1579.7" y2="1862.4" stroke="#c00000" stroke-width="2.5" stroke-dasharray="7.5 4"/>
<line x1="1533.7" y1="1731.5" x2="1599.1" y2="1862.4" stroke="#c00000" stroke-width="2.5" stroke-dasharray="7.5 4"/>
<line x1="1557.3" y1="1731.5" x2="1622.7" y2="1862.4" stroke="#c00000" stroke-width="2.5" stroke-dasharray="7.5 4"/>
<line x1="1576.7" y1="1731.5" x2="1642.1" y2="1862.4" stroke="#c00000" stroke-width="2.5" stroke-dasharray="7.5 4"/>
<line x1="1600.4" y1="1731.5" x2="1665.8" y2="1862.4" stroke="#c00000" stroke-width="2.5" stroke-dasharray="7.5 4"/>
<line x1="1619.8" y1="1731.5" x2="1685.2" y2="1862.4" stroke="#c00000" stroke-width="2.5" stroke-dasharray="7.5 4"/>
<line x1="1643.4" y1="1731.5" x2="1708.8" y2="1862.4" stroke="#c00000" stroke-width="2.5" stroke-dasharray="7.5 4"/>
<line x1="1662.8" y1="1731.5" x2="1728.2" y2="1862.4" stroke="#c00000" stroke-width="2.5" stroke-dasharray="7.5 4"/>
<line x1="1686.4" y1="1731.5" x2="1751.9" y2="1862.4" stroke="#c00000" stroke-width="2.5" stroke-dasharray="7.5 4"/>
<line x1="1705.9" y1="1731.5" x2="1771.3" y2="1862.4" stroke="#c00000" stroke-width="2.5" stroke-dasharray="7.5 4"/>
<line x1="1729.5" y1="1731.5" x2="1794.9" y2="1862.4" stroke="#c00000" stroke-width="2.5" stroke-dasharray="7.5 4"/>
<line x1="1748.9" y1="1731.5" x2="1814.3" y2="1862.4" stroke="#c00000" stroke-width="2.5" stroke-dasharray="7.5 4"/>
<line x1="1772.5" y1="1731.5" x2="1838.0" y2="1862.4" stroke="#c00000" stroke-width="2.5" stroke-dasharray="7.5 4"/>
<line x1="1792.0" y1="1731.5" x2="1857.4" y2="1862.4" stroke="#c00000" stroke-width="2.5" stroke-dasharray="7.5 4"/>
<line x1="1815.6" y1="1731.5" x2="1881.0" y2="1862.4" stroke="#c00000" stroke-width="2.5" stroke-dasharray="7.5 4"/>
<line x1="1835.0" y1="1731.5" x2="1900.4" y2="1862.4" stroke="#c00000" stroke-width="2.5" stroke-dasharray="7.5 4"/>
<line x1="1858.6" y1="1731.5" x2="1924.1" y2="1862.4" stroke="#c00000" stroke-width="2.5" stroke-dasharray="7.5 4"/>
<line x1="1878.1" y1="1731.5" x2="1943.5" y2="1862.4" stroke="#c00000" stroke-width="2.5" stroke-dasharray="7.5 4"/>
</g>
<line x1="1614.4" y1="1673.6" x2="1641.1" y2="1729.9" stroke="#c00000" stroke-width="2.5" stroke-dasharray="7.5 4"/>
<line x1="1650.4" y1="1673.6" x2="1678.6" y2="1729.9" stroke="#c00000" stroke-width="2.5" stroke-dasharray="7.5 4"/>
<line x1="1700.5" y1="1673.6" x2="1727.2" y2="1729.9" stroke="#c00000" stroke-width="2.5" stroke-dasharray="7.5 4"/>
<line x1="1738.1" y1="1673.6" x2="1766.3" y2="1729.9" stroke="#c00000" stroke-width="2.5" stroke-dasharray="7.5 4"/>
<path d="M1611.6,1729.9 V1671.4 H1801.0 V1729.9" fill="none" stroke="#c00000" stroke-width="3.8" stroke-dasharray="10.8 6.3" stroke-linejoin="round"/>
<rect x="1611.7" y="1730.9" width="189.2" height="131.7" fill="none" stroke="#000" stroke-width="4"/>
<polygon points="1843.9,1762.7 1912.5,1762.7 1912.5,1755.0 1927.5,1769.0 1912.5,1783.0 1912.5,1775.3 1843.9,1775.3" fill="#454545" />
<rect x="1847.9" y="1766.4" width="70.6" height="5.2" fill="#9fc3e2"/>
<rect x="1983.3" y="1671.4" width="196.3" height="194.1" fill="#000"/>
<rect x="1988.6" y="1676.1" width="38.5" height="54.8" fill="#444444"/>
<rect x="2031.8" y="1676.1" width="42.3" height="54.8" fill="#ebebeb"/>
<rect x="2078.4" y="1676.1" width="42.6" height="54.8" fill="#444444"/>
<rect x="2125.7" y="1676.1" width="49.2" height="54.8" fill="#ebebeb"/>
<rect x="1988.6" y="1735.3" width="17.2" height="15.7" fill="#5b55e6"/>
<rect x="2011.1" y="1735.3" width="21.9" height="15.7" fill="#ebebeb"/>
<rect x="2037.7" y="1735.3" width="18.2" height="15.7" fill="#5b55e6"/>
<rect x="2061.2" y="1735.3" width="19.7" height="15.7" fill="#ebebeb"/>
<rect x="2085.6" y="1735.3" width="18.2" height="15.7" fill="#5b55e6"/>
<rect x="2109.1" y="1735.3" width="21.0" height="15.7" fill="#ebebeb"/>
<rect x="2134.8" y="1735.3" width="17.5" height="15.7" fill="#5b55e6"/>
<rect x="2157.0" y="1735.3" width="17.8" height="15.7" fill="#ebebeb"/>
<rect x="1988.6" y="1755.6" width="186.3" height="16.6" fill="#1a14b8"/>
<rect x="1988.6" y="1755.6" width="21.2" height="16.6" fill="#2a22e0"/>
<rect x="2011.1" y="1755.6" width="21.9" height="16.6" fill="#5b55e6"/>
<rect x="2037.7" y="1755.6" width="22.2" height="16.6" fill="#2a22e0"/>
<rect x="2061.2" y="1755.6" width="19.7" height="16.6" fill="#5b55e6"/>
<rect x="2085.6" y="1755.6" width="22.2" height="16.6" fill="#2a22e0"/>
<rect x="2109.1" y="1755.6" width="21.0" height="16.6" fill="#5b55e6"/>
<rect x="2134.8" y="1755.6" width="21.5" height="16.6" fill="#2a22e0"/>
<rect x="2157.0" y="1755.6" width="17.8" height="16.6" fill="#5b55e6"/>
<rect x="1988.6" y="1777.8" width="17.2" height="16.3" fill="#5b55e6"/>
<rect x="2011.1" y="1777.8" width="21.9" height="16.3" fill="#ebebeb"/>
<rect x="2037.7" y="1777.8" width="18.2" height="16.3" fill="#5b55e6"/>
<rect x="2061.2" y="1777.8" width="19.7" height="16.3" fill="#ebebeb"/>
<rect x="2085.6" y="1777.8" width="18.2" height="16.3" fill="#5b55e6"/>
<rect x="2109.1" y="1777.8" width="21.0" height="16.3" fill="#ebebeb"/>
<rect x="2134.8" y="1777.8" width="17.5" height="16.3" fill="#5b55e6"/>
<rect x="2157.0" y="1777.8" width="17.8" height="16.3" fill="#ebebeb"/>
<rect x="1988.6" y="1799.4" width="186.3" height="16.6" fill="#1a14b8"/>
<rect x="1988.6" y="1799.4" width="21.2" height="16.6" fill="#2a22e0"/>
<rect x="2011.1" y="1799.4" width="21.9" height="16.6" fill="#5b55e6"/>
<rect x="2037.7" y="1799.4" width="22.2" height="16.6" fill="#2a22e0"/>
<rect x="2061.2" y="1799.4" width="19.7" height="16.6" fill="#5b55e6"/>
<rect x="2085.6" y="1799.4" width="22.2" height="16.6" fill="#2a22e0"/>
<rect x="2109.1" y="1799.4" width="21.0" height="16.6" fill="#5b55e6"/>
<rect x="2134.8" y="1799.4" width="21.5" height="16.6" fill="#2a22e0"/>
<rect x="2157.0" y="1799.4" width="17.8" height="16.6" fill="#5b55e6"/>
<rect x="1988.6" y="1821.7" width="17.2" height="16.3" fill="#5b55e6"/>
<rect x="2011.1" y="1821.7" width="21.9" height="16.3" fill="#ebebeb"/>
<rect x="2037.7" y="1821.7" width="18.2" height="16.3" fill="#5b55e6"/>
<rect x="2061.2" y="1821.7" width="19.7" height="16.3" fill="#ebebeb"/>
<rect x="2085.6" y="1821.7" width="18.2" height="16.3" fill="#5b55e6"/>
<rect x="2109.1" y="1821.7" width="21.0" height="16.3" fill="#ebebeb"/>
<rect x="2134.8" y="1821.7" width="17.5" height="16.3" fill="#5b55e6"/>
<rect x="2157.0" y="1821.7" width="17.8" height="16.3" fill="#ebebeb"/>
<rect x="1988.6" y="1842.6" width="186.3" height="17.8" fill="#1a14b8"/>
<rect x="1988.6" y="1842.6" width="21.2" height="17.8" fill="#2a22e0"/>
<rect x="2011.1" y="1842.6" width="21.9" height="17.8" fill="#5b55e6"/>
<rect x="2037.7" y="1842.6" width="22.2" height="17.8" fill="#2a22e0"/>
<rect x="2061.2" y="1842.6" width="19.7" height="17.8" fill="#5b55e6"/>
<rect x="2085.6" y="1842.6" width="22.2" height="17.8" fill="#2a22e0"/>
<rect x="2109.1" y="1842.6" width="21.0" height="17.8" fill="#5b55e6"/>
<rect x="2134.8" y="1842.6" width="21.5" height="17.8" fill="#2a22e0"/>
<rect x="2157.0" y="1842.6" width="17.8" height="17.8" fill="#5b55e6"/>
<line x1="2076.9" y1="1637.6" x2="2076.9" y2="1672.0" stroke="#000" stroke-width="1.8"/>
<line x1="2174.9" y1="1637.6" x2="2174.9" y2="1672.0" stroke="#000" stroke-width="1.8"/>
<line x1="2084.9" y1="1656.4" x2="2166.9" y2="1656.4" stroke="#000" stroke-width="2.2"/>
<polygon points="2077.4,1656.4 2094.9,1648.4 2094.9,1664.4" fill="#000" />
<polygon points="2174.4,1656.4 2156.9,1648.4 2156.9,1664.4" fill="#000" />
<text x="2093.5" y="1642.3" font-size="35.5" fill="#000" text-anchor="start" textLength="64.2" lengthAdjust="spacingAndGlyphs" >2μm</text>
</svg>
</body></html>
